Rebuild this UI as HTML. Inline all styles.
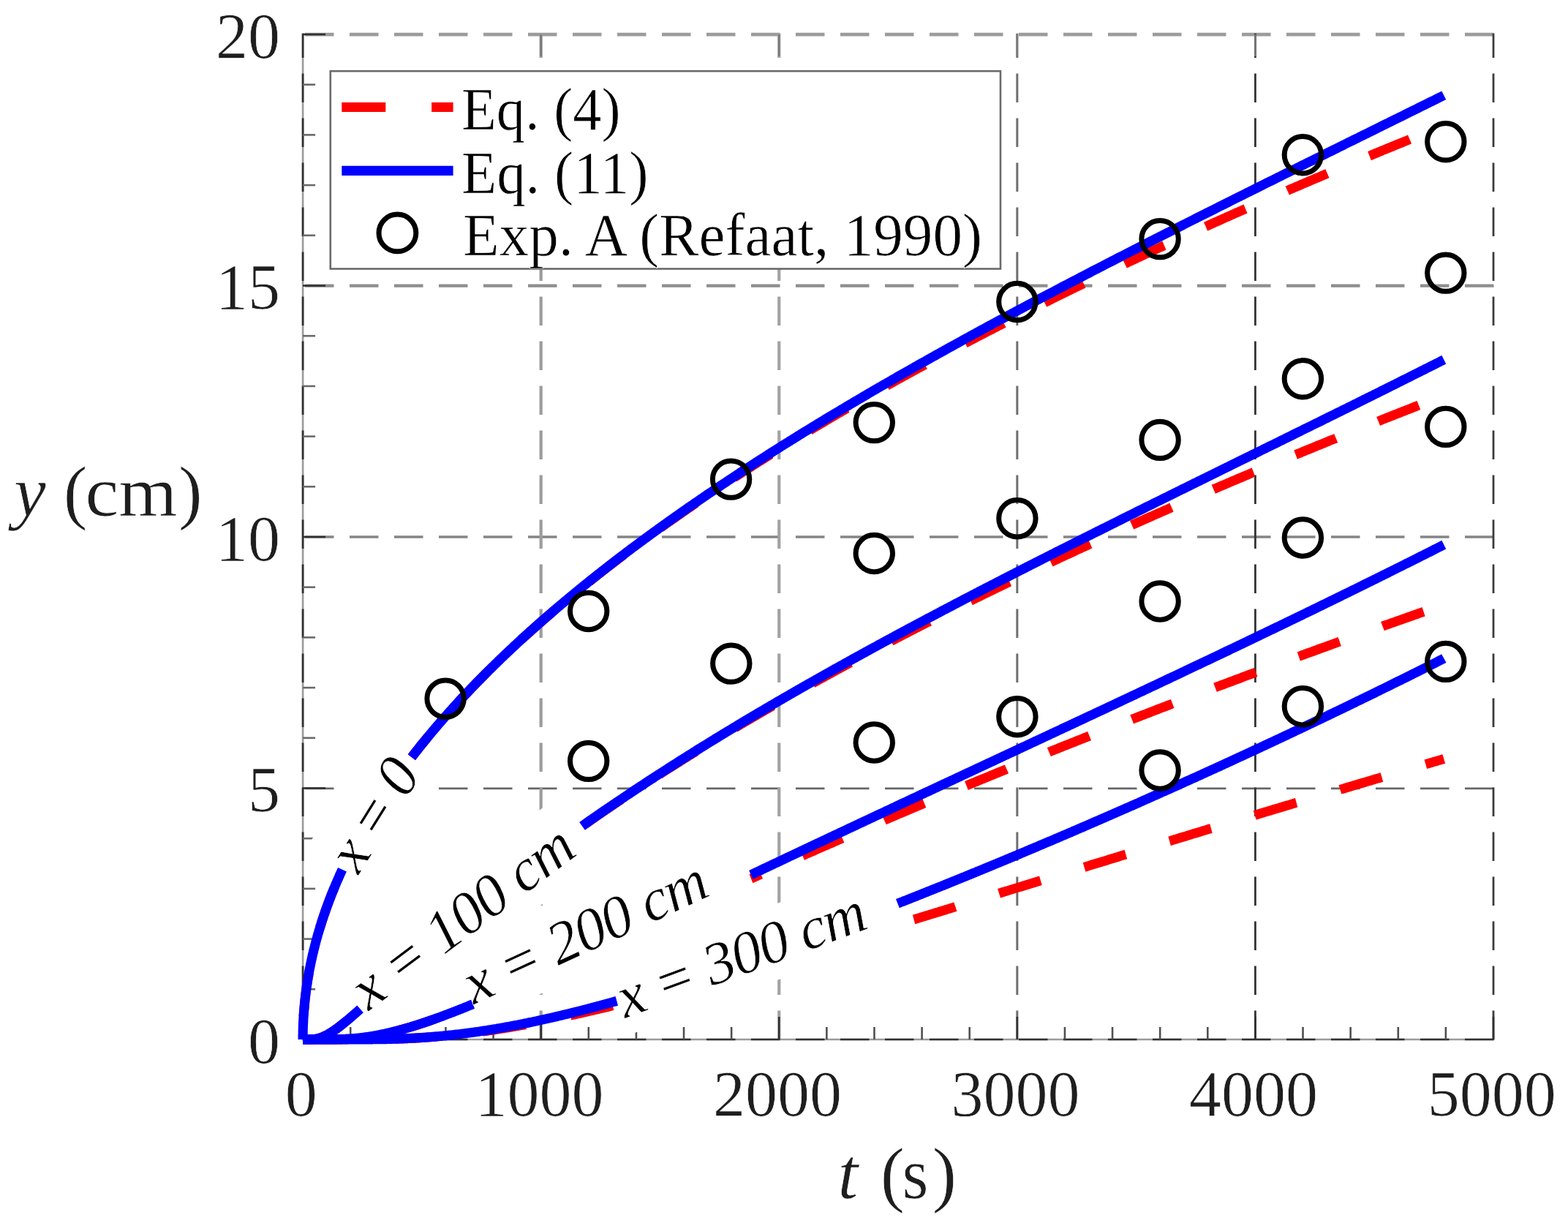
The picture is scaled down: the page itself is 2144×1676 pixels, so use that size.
<!DOCTYPE html>
<html><head><meta charset="utf-8"><title>y vs t</title>
<style>html,body{margin:0;padding:0;background:#fff;}svg{display:block;}text{stroke:#fff;stroke-width:0.7px;stroke-linejoin:round;}</style>
</head><body>
<svg width="2144" height="1676" viewBox="0 0 2144 1676">
<rect x="0" y="0" width="2144" height="1676" fill="#ffffff"/>
<line x1="417" y1="1077.80" x2="2043.30" y2="1077.80" stroke="#666666" stroke-width="2.7" stroke-dasharray="39.5 21.5"/>
<line x1="417" y1="734.00" x2="2043.30" y2="734.00" stroke="#858585" stroke-width="3.4" stroke-dasharray="39.5 21.5"/>
<line x1="417" y1="390.60" x2="2043.30" y2="390.60" stroke="#8e8e8e" stroke-width="4.2" stroke-dasharray="39.5 21.5"/>
<line x1="417" y1="47.20" x2="2043.30" y2="47.20" stroke="#9c9c9c" stroke-width="4.8" stroke-dasharray="39.5 21.5"/>
<line x1="739.68" y1="1421.00" x2="739.68" y2="45.70" stroke="#9c9c9c" stroke-width="4.2" stroke-dasharray="39.5 21.5"/>
<line x1="1065.26" y1="1421.00" x2="1065.26" y2="45.70" stroke="#a2a2a2" stroke-width="4.2" stroke-dasharray="39.5 21.5"/>
<line x1="1390.84" y1="1421.00" x2="1390.84" y2="45.70" stroke="#6e6e6e" stroke-width="3.0" stroke-dasharray="39.5 21.5"/>
<line x1="1716.42" y1="1421.00" x2="1716.42" y2="45.70" stroke="#333333" stroke-width="2.8" stroke-dasharray="39.5 21.5"/>
<line x1="2042.00" y1="1421.00" x2="2042.00" y2="45.70" stroke="#3c3c3c" stroke-width="2.8" stroke-dasharray="39.5 21.5"/>
<line x1="414.10" y1="45.70" x2="414.10" y2="1422.30" stroke="#9a9a9a" stroke-width="2.6"/>
<line x1="412.80" y1="1421.00" x2="2043.30" y2="1421.00" stroke="#9a9a9a" stroke-width="2.6"/>
<line x1="414.10" y1="1421.00" x2="414.10" y2="45.70" stroke="#303030" stroke-width="2.7" stroke-dasharray="39.5 21.5"/>
<line x1="417" y1="1421.00" x2="2043.30" y2="1421.00" stroke="#303030" stroke-width="2.7" stroke-dasharray="39.5 21.5"/>
<line x1="414.10" y1="1421.00" x2="445.10" y2="1421.00" stroke="#303030" stroke-width="2.6"/>
<line x1="414.10" y1="1352.30" x2="431.10" y2="1352.30" stroke="#6a6a6a" stroke-width="2.6"/>
<line x1="414.10" y1="1283.60" x2="431.10" y2="1283.60" stroke="#6a6a6a" stroke-width="2.6"/>
<line x1="414.10" y1="1214.90" x2="431.10" y2="1214.90" stroke="#6a6a6a" stroke-width="2.6"/>
<line x1="414.10" y1="1146.20" x2="431.10" y2="1146.20" stroke="#6a6a6a" stroke-width="2.6"/>
<line x1="414.10" y1="1077.50" x2="445.10" y2="1077.50" stroke="#303030" stroke-width="2.6"/>
<line x1="414.10" y1="1008.80" x2="431.10" y2="1008.80" stroke="#6a6a6a" stroke-width="2.6"/>
<line x1="414.10" y1="940.10" x2="431.10" y2="940.10" stroke="#6a6a6a" stroke-width="2.6"/>
<line x1="414.10" y1="871.40" x2="431.10" y2="871.40" stroke="#6a6a6a" stroke-width="2.6"/>
<line x1="414.10" y1="802.70" x2="431.10" y2="802.70" stroke="#6a6a6a" stroke-width="2.6"/>
<line x1="414.10" y1="734.00" x2="445.10" y2="734.00" stroke="#303030" stroke-width="2.6"/>
<line x1="414.10" y1="665.30" x2="431.10" y2="665.30" stroke="#6a6a6a" stroke-width="2.6"/>
<line x1="414.10" y1="596.60" x2="431.10" y2="596.60" stroke="#6a6a6a" stroke-width="2.6"/>
<line x1="414.10" y1="527.90" x2="431.10" y2="527.90" stroke="#6a6a6a" stroke-width="2.6"/>
<line x1="414.10" y1="459.20" x2="431.10" y2="459.20" stroke="#6a6a6a" stroke-width="2.6"/>
<line x1="414.10" y1="390.50" x2="445.10" y2="390.50" stroke="#303030" stroke-width="2.6"/>
<line x1="414.10" y1="321.80" x2="431.10" y2="321.80" stroke="#6a6a6a" stroke-width="2.6"/>
<line x1="414.10" y1="253.10" x2="431.10" y2="253.10" stroke="#6a6a6a" stroke-width="2.6"/>
<line x1="414.10" y1="184.40" x2="431.10" y2="184.40" stroke="#6a6a6a" stroke-width="2.6"/>
<line x1="414.10" y1="115.70" x2="431.10" y2="115.70" stroke="#6a6a6a" stroke-width="2.6"/>
<line x1="414.10" y1="47.00" x2="445.10" y2="47.00" stroke="#303030" stroke-width="2.6"/>
<line x1="414.10" y1="1421.00" x2="414.10" y2="1390.00" stroke="#303030" stroke-width="2.6"/>
<line x1="479.22" y1="1421.00" x2="479.22" y2="1404.00" stroke="#505050" stroke-width="2.6"/>
<line x1="544.33" y1="1421.00" x2="544.33" y2="1404.00" stroke="#505050" stroke-width="2.6"/>
<line x1="609.45" y1="1421.00" x2="609.45" y2="1404.00" stroke="#505050" stroke-width="2.6"/>
<line x1="674.56" y1="1421.00" x2="674.56" y2="1404.00" stroke="#505050" stroke-width="2.6"/>
<line x1="739.68" y1="1421.00" x2="739.68" y2="1390.00" stroke="#303030" stroke-width="2.6"/>
<line x1="804.80" y1="1421.00" x2="804.80" y2="1404.00" stroke="#505050" stroke-width="2.6"/>
<line x1="869.91" y1="1421.00" x2="869.91" y2="1404.00" stroke="#505050" stroke-width="2.6"/>
<line x1="935.03" y1="1421.00" x2="935.03" y2="1404.00" stroke="#505050" stroke-width="2.6"/>
<line x1="1000.14" y1="1421.00" x2="1000.14" y2="1404.00" stroke="#505050" stroke-width="2.6"/>
<line x1="1065.26" y1="1421.00" x2="1065.26" y2="1390.00" stroke="#303030" stroke-width="2.6"/>
<line x1="1130.38" y1="1421.00" x2="1130.38" y2="1404.00" stroke="#505050" stroke-width="2.6"/>
<line x1="1195.49" y1="1421.00" x2="1195.49" y2="1404.00" stroke="#505050" stroke-width="2.6"/>
<line x1="1260.61" y1="1421.00" x2="1260.61" y2="1404.00" stroke="#505050" stroke-width="2.6"/>
<line x1="1325.72" y1="1421.00" x2="1325.72" y2="1404.00" stroke="#505050" stroke-width="2.6"/>
<line x1="1390.84" y1="1421.00" x2="1390.84" y2="1390.00" stroke="#303030" stroke-width="2.6"/>
<line x1="1455.96" y1="1421.00" x2="1455.96" y2="1404.00" stroke="#505050" stroke-width="2.6"/>
<line x1="1521.07" y1="1421.00" x2="1521.07" y2="1404.00" stroke="#505050" stroke-width="2.6"/>
<line x1="1586.19" y1="1421.00" x2="1586.19" y2="1404.00" stroke="#505050" stroke-width="2.6"/>
<line x1="1651.30" y1="1421.00" x2="1651.30" y2="1404.00" stroke="#505050" stroke-width="2.6"/>
<line x1="1716.42" y1="1421.00" x2="1716.42" y2="1390.00" stroke="#303030" stroke-width="2.6"/>
<line x1="1781.54" y1="1421.00" x2="1781.54" y2="1404.00" stroke="#505050" stroke-width="2.6"/>
<line x1="1846.65" y1="1421.00" x2="1846.65" y2="1404.00" stroke="#505050" stroke-width="2.6"/>
<line x1="1911.77" y1="1421.00" x2="1911.77" y2="1404.00" stroke="#505050" stroke-width="2.6"/>
<line x1="1976.88" y1="1421.00" x2="1976.88" y2="1404.00" stroke="#505050" stroke-width="2.6"/>
<line x1="2042.00" y1="1421.00" x2="2042.00" y2="1390.00" stroke="#303030" stroke-width="2.6"/>
<line x1="739.68" y1="47.00" x2="739.68" y2="77.00" stroke="#7a7a7a" stroke-width="2.6"/>
<line x1="1065.26" y1="47.00" x2="1065.26" y2="77.00" stroke="#7a7a7a" stroke-width="2.6"/>
<line x1="1390.84" y1="47.00" x2="1390.84" y2="77.00" stroke="#7a7a7a" stroke-width="2.6"/>
<line x1="1716.42" y1="47.00" x2="1716.42" y2="77.00" stroke="#7a7a7a" stroke-width="2.6"/>
<rect x="-93.7" y="-54.1" width="187.4" height="108.2" fill="#ffffff" transform="translate(511.5,1113.4) rotate(-58.00)"/>
<rect x="-191.8" y="-52.5" width="383.6" height="105.0" fill="#ffffff" transform="translate(631.6,1252.5) rotate(-36.80)"/>
<rect x="-191.5" y="-50.8" width="383.0" height="101.7" fill="#ffffff" transform="translate(800.1,1274.5) rotate(-24.70)"/>
<rect x="-190.8" y="-49.2" width="381.6" height="98.4" fill="#ffffff" transform="translate(1013.6,1305.6) rotate(-20.30)"/>
<path d="M414.1,1421.0 L414.1,1419.9 L414.1,1418.8 L414.1,1417.8 L414.1,1416.7 L414.1,1415.6 L414.1,1414.5 L414.2,1413.4 L414.2,1412.4 L414.2,1411.3 L414.2,1410.2 L414.2,1409.1 L414.3,1408.0 L414.3,1407.0 L414.3,1405.9 L414.4,1404.8 L414.4,1403.7 L414.4,1402.6 L414.5,1401.6 L414.5,1400.5 L414.6,1399.4 L414.6,1398.3 L414.7,1397.2 L414.7,1396.2 L414.8,1395.1 L414.8,1394.0 L414.9,1392.9 L415.0,1391.8 L415.0,1390.8 L415.1,1389.7 L415.1,1388.6 L415.2,1387.5 L415.3,1386.4 L415.4,1385.4 L415.4,1384.3 L415.5,1383.2 L415.6,1382.1 L415.7,1381.0 L415.8,1380.0 L415.9,1378.9 L416.0,1377.8 L416.1,1376.7 L416.2,1375.6 L416.3,1374.6 L416.4,1373.5 L416.5,1372.4 L416.6,1371.3 L416.7,1370.2 L416.8,1369.2 L416.9,1368.1 L417.0,1367.0 L417.1,1365.9 L417.3,1364.8 L417.4,1363.8 L417.5,1362.7 L417.6,1361.6 L417.8,1360.5 L417.9,1359.4 L418.0,1358.4 L418.2,1357.3 L418.3,1356.2 L418.4,1355.1 L418.6,1354.0 L418.7,1353.0 L418.9,1351.9 L419.0,1350.8 L419.2,1349.7 L419.3,1348.6 L419.5,1347.6 L419.7,1346.5 L419.8,1345.4 L420.0,1344.3 L420.1,1343.2 L420.3,1342.2 L420.5,1341.1 L420.7,1340.0 L420.8,1338.9 L421.0,1337.8 L421.2,1336.8 L421.4,1335.7 L421.6,1334.6 L421.8,1333.5 L421.9,1332.4 L422.1,1331.4 L422.3,1330.3 L422.5,1329.2 L422.7,1328.1 L422.9,1327.0 L423.1,1326.0 L423.3,1324.9 L423.5,1323.8 L423.8,1322.7 L424.0,1321.6 L424.2,1320.6 L424.4,1319.5 L424.6,1318.4 L424.8,1317.3 L425.1,1316.2 L425.3,1315.2 L425.5,1314.1 L425.8,1313.0 L426.0,1311.9 L426.2,1310.8 L426.5,1309.8 L426.7,1308.7 L427.0,1307.6 L427.2,1306.5 L427.4,1305.4 L427.7,1304.4 L428.0,1303.3 L428.2,1302.2 L428.5,1301.1 L428.7,1300.0 L429.0,1299.0 L429.3,1297.9 L429.5,1296.8 L429.8,1295.7 L430.1,1294.6 L430.3,1293.6 L430.6,1292.5 L430.9,1291.4 L431.2,1290.3 L431.5,1289.2 L431.7,1288.2 L432.0,1287.1 L432.3,1286.0 L432.6,1284.9 L432.9,1283.8 L433.2,1282.8 L433.5,1281.7 L433.8,1280.6 L434.1,1279.5 L434.4,1278.4 L434.7,1277.4 L435.0,1276.3 L435.4,1275.2 L435.7,1274.1 L436.0,1273.0 L436.3,1272.0 L436.6,1270.9 L437.0,1269.8 L437.3,1268.7 L437.6,1267.6 L437.9,1266.6 L438.3,1265.5 L438.6,1264.4 L439.0,1263.3 L439.3,1262.2 L439.6,1261.2 L440.0,1260.1 L440.3,1259.0 L440.7,1257.9 L441.0,1256.8 L441.4,1255.8 L441.8,1254.7 L442.1,1253.6 L442.5,1252.5 L442.8,1251.4 L443.2,1250.4 L443.6,1249.3 L444.0,1248.2 L444.3,1247.1 L444.7,1246.0 L445.1,1245.0 L445.5,1243.9 L445.8,1242.8 L446.2,1241.7 L446.6,1240.6 L447.0,1239.6 L447.4,1238.5 L447.8,1237.4 L448.2,1236.3 L448.6,1235.2 L449.0,1234.2 L449.4,1233.1 L449.8,1232.0 L450.2,1230.9 L450.6,1229.8 L451.0,1228.8 L451.5,1227.7 L451.9,1226.6 L452.3,1225.5 L452.7,1224.4 L453.1,1223.4 L453.6,1222.3 L454.0,1221.2 L454.4,1220.1 L454.9,1219.0 L455.3,1218.0 L455.8,1216.9 L456.2,1215.8 L456.6,1214.7 L457.1,1213.6 L457.5,1212.6 L458.0,1211.5 L458.4,1210.4 L458.9,1209.3 L459.4,1208.2 L459.8,1207.2 L460.3,1206.1 L460.7,1205.0 L461.2,1203.9 L461.7,1202.8 L462.2,1201.7 L462.6,1200.7 L463.1,1199.6 L463.6,1198.5 L464.1,1197.4 L464.5,1196.3 L465.0,1195.3 L465.5,1194.2 L466.0,1193.1 L466.5,1192.0 L467.0,1190.9 L467.5,1189.9 L468.0,1188.8" fill="none" stroke="#ff0000" stroke-width="13" stroke-dasharray="59.5 62.4" stroke-dashoffset="89.60" stroke-linejoin="round"/>
<path d="M562.9,1035.2 L564.0,1033.8 L565.0,1032.4 L566.1,1031.1 L567.1,1029.7 L568.2,1028.3 L569.3,1027.0 L570.4,1025.6 L571.5,1024.2 L572.5,1022.9 L573.6,1021.5 L574.7,1020.1 L575.8,1018.8 L576.9,1017.4 L578.0,1016.0 L579.1,1014.7 L580.2,1013.3 L581.4,1011.9 L582.5,1010.6 L583.6,1009.2 L584.7,1007.8 L585.9,1006.5 L587.0,1005.1 L588.1,1003.8 L589.3,1002.4 L590.4,1001.0 L591.6,999.7 L592.7,998.3 L593.9,996.9 L595.0,995.6 L596.2,994.2 L597.4,992.8 L598.5,991.5 L599.7,990.1 L600.9,988.7 L602.1,987.4 L603.3,986.0 L604.4,984.6 L605.6,983.3 L606.8,981.9 L608.0,980.5 L609.2,979.2 L610.5,977.8 L611.7,976.4 L612.9,975.1 L614.1,973.7 L615.3,972.3 L616.6,971.0 L617.8,969.6 L619.0,968.2 L620.3,966.9 L621.5,965.5 L622.7,964.1 L624.0,962.8 L625.3,961.4 L626.5,960.0 L627.8,958.7 L629.0,957.3 L630.3,955.9 L631.6,954.6 L632.9,953.2 L634.1,951.8 L635.4,950.5 L636.7,949.1 L638.0,947.7 L639.3,946.4 L640.6,945.0 L641.9,943.6 L643.2,942.3 L644.5,940.9 L645.8,939.5 L647.1,938.2 L648.5,936.8 L649.8,935.4 L651.1,934.1 L652.4,932.7 L653.8,931.3 L655.1,930.0 L656.5,928.6 L657.8,927.2 L659.2,925.9 L660.5,924.5 L661.9,923.1 L663.2,921.8 L664.6,920.4 L666.0,919.0 L667.3,917.7 L668.7,916.3 L670.1,914.9 L671.5,913.6 L672.9,912.2 L674.3,910.8 L675.7,909.5 L677.0,908.1 L678.5,906.7 L679.9,905.4 L681.3,904.0 L682.7,902.6 L684.1,901.3 L685.5,899.9 L686.9,898.5 L688.4,897.2 L689.8,895.8 L691.2,894.4 L692.7,893.1 L694.1,891.7 L695.6,890.3 L697.0,889.0 L698.5,887.6 L699.9,886.2 L701.4,884.9 L702.9,883.5 L704.3,882.2 L705.8,880.8 L707.3,879.4 L708.8,878.1 L710.3,876.7 L711.7,875.3 L713.2,874.0 L714.7,872.6 L716.2,871.2 L717.7,869.9 L719.2,868.5 L720.8,867.1 L722.3,865.8 L723.8,864.4 L725.3,863.0 L726.8,861.7 L728.4,860.3 L729.9,858.9 L731.4,857.6 L733.0,856.2 L734.5,854.8 L736.1,853.5 L737.6,852.1 L739.2,850.7 L740.7,849.4 L742.3,848.0 L743.9,846.6 L745.4,845.3 L747.0,843.9 L748.6,842.5 L750.2,841.2 L751.8,839.8 L753.4,838.4 L754.9,837.1 L756.5,835.7 L758.1,834.3 L759.7,833.0 L761.4,831.6 L763.0,830.2 L764.6,828.9 L766.2,827.5 L767.8,826.1 L769.5,824.8 L771.1,823.4 L772.7,822.0 L774.4,820.7 L776.0,819.3 L777.6,817.9 L779.3,816.6 L780.9,815.2 L782.6,813.8 L784.3,812.5 L785.9,811.1 L787.6,809.7 L789.3,808.4 L790.9,807.0 L792.6,805.6 L794.3,804.3 L796.0,802.9 L797.7,801.5 L799.4,800.2 L801.1,798.8 L802.8,797.4 L804.5,796.1 L806.2,794.7 L807.9,793.3 L809.6,792.0 L811.3,790.6 L813.1,789.2 L814.8,787.9 L816.5,786.5 L818.2,785.1 L820.0,783.8 L821.7,782.4 L823.5,781.0 L825.2,779.7 L827.0,778.3 L828.7,776.9 L830.5,775.6 L832.3,774.2 L834.0,772.8 L835.8,771.5 L837.6,770.1 L839.4,768.7 L841.1,767.4 L842.9,766.0 L844.7,764.6 L846.5,763.3 L848.3,761.9 L850.1,760.5 L851.9,759.2 L853.7,757.8 L855.5,756.5 L857.4,755.1 L859.2,753.7 L861.0,752.4 L862.8,751.0 L864.7,749.6 L866.5,748.3 L868.3,746.9 L870.2,745.5 L872.0,744.2 L873.9,742.8 L875.7,741.4 L877.6,740.1 L879.5,738.7 L881.3,737.3 L883.2,736.0 L885.1,734.6 L886.9,733.2 L888.8,731.9 L890.7,730.5 L892.6,729.1 L894.5,727.8 L896.4,726.4 L898.3,725.0 L900.2,723.7 L902.1,722.3 L904.0,720.9 L905.9,719.6 L907.8,718.2 L909.8,716.8 L911.7,715.5 L913.6,714.1 L915.5,712.7 L917.5,711.4 L919.4,710.0 L921.4,708.6 L923.3,707.3 L925.3,705.9 L927.2,704.5 L929.2,703.2 L931.1,701.8 L933.1,700.4 L935.1,699.1 L937.1,697.7 L939.0,696.3 L941.0,695.0 L943.0,693.6 L945.0,692.2 L947.0,690.9 L949.0,689.5 L951.0,688.1 L953.0,686.8 L955.0,685.4 L957.0,684.0 L959.0,682.7 L961.0,681.3 L963.0,679.9 L965.1,678.6 L967.1,677.2 L969.1,675.8 L971.2,674.5 L973.2,673.1 L975.3,671.7 L977.3,670.4 L979.4,669.0 L981.4,667.6 L983.5,666.3 L985.5,664.9 L987.6,663.5 L989.7,662.2 L991.8,660.8 L993.8,659.4 L995.9,658.1 L998.0,656.7 L1000.1,655.3 L1002.2,654.0 L1004.3,652.6 L1006.4,651.2 L1008.5,649.9 L1010.6,648.5 L1012.7,647.1 L1014.8,645.8 L1016.9,644.4 L1019.1,643.0 L1021.2,641.7 L1023.3,640.3 L1025.5,638.9 L1027.6,637.6 L1029.7,636.2 L1031.9,634.9 L1034.0,633.5 L1036.2,632.1 L1038.3,630.8 L1040.5,629.4 L1042.7,628.0 L1044.8,626.7 L1047.0,625.3 L1049.2,623.9 L1051.4,622.6 L1053.5,621.2 L1055.7,619.8 L1057.9,618.5 L1060.1,617.1 L1062.3,615.7 L1064.5,614.4 L1066.7,613.0 L1068.9,611.6 L1071.1,610.3 L1073.4,608.9 L1075.6,607.5 L1077.8,606.2 L1080.0,604.8 L1082.3,603.4 L1084.5,602.1 L1086.7,600.7 L1089.0,599.3 L1091.2,598.0 L1093.5,596.6 L1095.7,595.2 L1098.0,593.9 L1100.2,592.5 L1102.5,591.1 L1104.8,589.8 L1107.0,588.4 L1109.3,587.0 L1111.6,585.7 L1113.9,584.3 L1116.2,582.9 L1118.5,581.6 L1120.8,580.2 L1123.1,578.8 L1125.4,577.5 L1127.7,576.1 L1130.0,574.7 L1132.3,573.4 L1134.6,572.0 L1136.9,570.6 L1139.3,569.3 L1141.6,567.9 L1143.9,566.5 L1146.2,565.2 L1148.6,563.8 L1150.9,562.4 L1153.3,561.1 L1155.6,559.7 L1158.0,558.3 L1160.3,557.0 L1162.7,555.6 L1165.1,554.2 L1167.4,552.9 L1169.8,551.5 L1172.2,550.1 L1174.6,548.8 L1177.0,547.4 L1179.3,546.0 L1181.7,544.7 L1184.1,543.3 L1186.5,541.9 L1188.9,540.6 L1191.3,539.2 L1193.7,537.8 L1196.2,536.5 L1198.6,535.1 L1201.0,533.7 L1203.4,532.4 L1205.9,531.0 L1208.3,529.6 L1210.7,528.3 L1213.2,526.9 L1215.6,525.5 L1218.1,524.2 L1220.5,522.8 L1223.0,521.4 L1225.4,520.1 L1227.9,518.7 L1230.4,517.3 L1232.8,516.0 L1235.3,514.6 L1237.8,513.3 L1240.3,511.9 L1242.7,510.5 L1245.2,509.2 L1247.7,507.8 L1250.2,506.4 L1252.7,505.1 L1255.2,503.7 L1257.7,502.3 L1260.2,501.0 L1262.8,499.6 L1265.3,498.2 L1267.8,496.9 L1270.3,495.5 L1272.9,494.1 L1275.4,492.8 L1277.9,491.4 L1280.5,490.0 L1283.0,488.7 L1285.6,487.3 L1288.1,485.9 L1290.7,484.6 L1293.2,483.2 L1295.8,481.8 L1298.4,480.5 L1300.9,479.1 L1303.5,477.7 L1306.1,476.4 L1308.7,475.0 L1311.3,473.6 L1313.8,472.3 L1316.4,470.9 L1319.0,469.5 L1321.6,468.2 L1324.2,466.8 L1326.8,465.4 L1329.5,464.1 L1332.1,462.7 L1334.7,461.3 L1337.3,460.0 L1339.9,458.6 L1342.6,457.2 L1345.2,455.9 L1347.8,454.5 L1350.5,453.1 L1353.1,451.8 L1355.8,450.4 L1358.4,449.0 L1361.1,447.7 L1363.8,446.3 L1366.4,444.9 L1369.1,443.6 L1371.8,442.2 L1374.4,440.8 L1377.1,439.5 L1379.8,438.1 L1382.5,436.7 L1385.2,435.4 L1387.9,434.0 L1390.6,432.6 L1393.3,431.3 L1396.0,429.9 L1398.7,428.5 L1401.4,427.2 L1404.1,425.8 L1406.8,424.4 L1409.6,423.1 L1412.3,421.7 L1415.0,420.3 L1417.7,419.0 L1420.5,417.6 L1423.2,416.2 L1426.0,414.9 L1428.7,413.5 L1431.5,412.1 L1434.2,410.8 L1437.0,409.4 L1439.8,408.0 L1442.5,406.7 L1445.3,405.3 L1448.1,403.9 L1450.9,402.6 L1453.6,401.2 L1456.4,399.8 L1459.2,398.5 L1462.0,397.1 L1464.8,395.7 L1467.6,394.4 L1470.4,393.0 L1473.2,391.6 L1476.0,390.3 L1478.9,388.9 L1481.7,387.6 L1484.5,386.2 L1487.3,384.8 L1490.2,383.5 L1493.0,382.1 L1495.8,380.7 L1498.7,379.4 L1501.5,378.0 L1504.4,376.6 L1507.2,375.3 L1510.1,373.9 L1513.0,372.5 L1515.8,371.2 L1518.7,369.8 L1521.6,368.4 L1524.4,367.1 L1527.3,365.7 L1530.2,364.3 L1533.1,363.0 L1536.0,361.6 L1538.9,360.2 L1541.8,358.9 L1544.7,357.5 L1547.6,356.1 L1550.5,354.8 L1553.4,353.4 L1556.3,352.0 L1559.3,350.7 L1562.2,349.3 L1565.1,347.9 L1568.1,346.6 L1571.0,345.2 L1573.9,343.8 L1576.9,342.5 L1579.8,341.1 L1582.8,339.7 L1585.7,338.4 L1588.7,337.0 L1591.6,335.6 L1594.6,334.3 L1597.6,332.9 L1600.6,331.5 L1603.5,330.2 L1606.5,328.8 L1609.5,327.4 L1612.5,326.1 L1615.5,324.7 L1618.5,323.3 L1621.5,322.0 L1624.5,320.6 L1627.5,319.2 L1630.5,317.9 L1633.5,316.5 L1636.5,315.1 L1639.6,313.8 L1642.6,312.4 L1645.6,311.0 L1648.7,309.7 L1651.7,308.3 L1654.7,306.9 L1657.8,305.6 L1660.8,304.2 L1663.9,302.8 L1666.9,301.5 L1670.0,300.1 L1673.1,298.7 L1676.1,297.4 L1679.2,296.0 L1682.3,294.6 L1685.3,293.3 L1688.4,291.9 L1691.5,290.5 L1694.6,289.2 L1697.7,287.8 L1700.8,286.4 L1703.9,285.1 L1707.0,283.7 L1710.1,282.3 L1713.2,281.0 L1716.3,279.6 L1719.5,278.2 L1722.6,276.9 L1725.7,275.5 L1728.8,274.1 L1732.0,272.8 L1735.1,271.4 L1738.3,270.0 L1741.4,268.7 L1744.5,267.3 L1747.7,266.0 L1750.9,264.6 L1754.0,263.2 L1757.2,261.9 L1760.3,260.5 L1763.5,259.1 L1766.7,257.8 L1769.9,256.4 L1773.1,255.0 L1776.2,253.7 L1779.4,252.3 L1782.6,250.9 L1785.8,249.6 L1789.0,248.2 L1792.2,246.8 L1795.4,245.5 L1798.7,244.1 L1801.9,242.7 L1805.1,241.4 L1808.3,240.0 L1811.5,238.6 L1814.8,237.3 L1818.0,235.9 L1821.3,234.5 L1824.5,233.2 L1827.7,231.8 L1831.0,230.4 L1834.2,229.1 L1837.5,227.7 L1840.8,226.3 L1844.0,225.0 L1847.3,223.6 L1850.6,222.2 L1853.8,220.9 L1857.1,219.5 L1860.4,218.1 L1863.7,216.8 L1867.0,215.4 L1870.3,214.0 L1873.6,212.7 L1876.9,211.3 L1880.2,209.9 L1883.5,208.6 L1886.8,207.2 L1890.1,205.8 L1893.5,204.5 L1896.8,203.1 L1900.1,201.7 L1903.4,200.4 L1906.8,199.0 L1910.1,197.6 L1913.5,196.3 L1916.8,194.9 L1920.2,193.5 L1923.5,192.2 L1926.9,190.8 L1930.2,189.4 L1933.6,188.1 L1937.0,186.7 L1940.3,185.3 L1943.7,184.0 L1947.1,182.6 L1950.5,181.2 L1953.9,179.9 L1957.3,178.5 L1960.7,177.1 L1964.1,175.8 L1967.5,174.4 L1970.9,173.0 L1974.3,171.7" fill="none" stroke="#ff0000" stroke-width="13" stroke-dasharray="59.5 62.4" stroke-dashoffset="23.21" stroke-linejoin="round"/>
<path d="M414.1,1421.0 L414.1,1421.0 L414.1,1421.0 L414.1,1421.0 L414.1,1421.0 L414.1,1421.0 L414.2,1421.0 L414.2,1421.0 L414.2,1421.0 L414.2,1421.0 L414.3,1421.0 L414.3,1421.0 L414.3,1421.0 L414.4,1421.0 L414.4,1421.0 L414.5,1421.0 L414.5,1421.0 L414.6,1421.0 L414.6,1421.0 L414.7,1421.0 L414.7,1421.0 L414.8,1421.0 L414.9,1421.0 L414.9,1421.0 L415.0,1421.0 L415.1,1421.0 L415.2,1421.0 L415.3,1421.0 L415.3,1421.0 L415.4,1421.0 L415.5,1421.0 L415.6,1421.0 L415.7,1421.0 L415.8,1421.0 L415.9,1421.0 L416.0,1421.0 L416.1,1421.0 L416.3,1421.0 L416.4,1421.0 L416.5,1421.0 L416.6,1421.0 L416.8,1421.0 L416.9,1421.0 L417.0,1421.0 L417.2,1421.0 L417.3,1421.0 L417.4,1421.0 L417.6,1421.0 L417.7,1421.0 L417.9,1421.0 L418.0,1421.0 L418.2,1421.0 L418.4,1421.0 L418.5,1421.0 L418.7,1421.0 L418.9,1421.0 L419.1,1421.0 L419.2,1421.0 L419.4,1421.0 L419.6,1421.0 L419.8,1421.0 L420.0,1421.0 L420.2,1421.0 L420.4,1421.0 L420.6,1421.0 L420.8,1421.0 L421.0,1421.0 L421.2,1421.0 L421.4,1421.0 L421.6,1421.0 L421.8,1421.0 L422.1,1421.0 L422.3,1421.0 L422.5,1421.0 L422.7,1421.0 L423.0,1421.0 L423.2,1421.0 L423.5,1421.0 L423.7,1421.0 L424.0,1421.0 L424.2,1421.0 L424.5,1421.0 L424.7,1421.0 L425.0,1420.9 L425.2,1420.9 L425.5,1420.9 L425.8,1420.9 L426.0,1420.9 L426.3,1420.9 L426.6,1420.9 L426.9,1420.8 L427.2,1420.8 L427.5,1420.8 L427.8,1420.8 L428.0,1420.8 L428.3,1420.7 L428.6,1420.7 L429.0,1420.7 L429.3,1420.6 L429.6,1420.6 L429.9,1420.6 L430.2,1420.5 L430.5,1420.5 L430.8,1420.4 L431.2,1420.4 L431.5,1420.3 L431.8,1420.3 L432.2,1420.2 L432.5,1420.1 L432.9,1420.1 L433.2,1420.0 L433.5,1419.9 L433.9,1419.8 L434.3,1419.8 L434.6,1419.7 L435.0,1419.6 L435.3,1419.5 L435.7,1419.4 L436.1,1419.3 L436.5,1419.2 L436.8,1419.0 L437.2,1418.9 L437.6,1418.8 L438.0,1418.7 L438.4,1418.5 L438.8,1418.4 L439.2,1418.3 L439.6,1418.1 L440.0,1418.0 L440.4,1417.8 L440.8,1417.6 L441.2,1417.5 L441.6,1417.3 L442.0,1417.1 L442.4,1416.9 L442.9,1416.7 L443.3,1416.5 L443.7,1416.3 L444.2,1416.1 L444.6,1415.9 L445.0,1415.7 L445.5,1415.5 L445.9,1415.3 L446.4,1415.0 L446.8,1414.8 L447.3,1414.5 L447.7,1414.3 L448.2,1414.0 L448.7,1413.8 L449.1,1413.5 L449.6,1413.2 L450.1,1413.0 L450.6,1412.7 L451.1,1412.4 L451.5,1412.1 L452.0,1411.8 L452.5,1411.5 L453.0,1411.2 L453.5,1410.9 L454.0,1410.5 L454.5,1410.2 L455.0,1409.9 L455.5,1409.5 L456.0,1409.2 L456.6,1408.9 L457.1,1408.5 L457.6,1408.1 L458.1,1407.8 L458.7,1407.4 L459.2,1407.0 L459.7,1406.6 L460.3,1406.3 L460.8,1405.9 L461.3,1405.5 L461.9,1405.1 L462.4,1404.7 L463.0,1404.2 L463.6,1403.8 L464.1,1403.4 L464.7,1403.0 L465.2,1402.5 L465.8,1402.1 L466.4,1401.6 L467.0,1401.2 L467.5,1400.7 L468.1,1400.3 L468.7,1399.8 L469.3,1399.3 L469.9,1398.9 L470.5,1398.4 L471.1,1397.9 L471.7,1397.4 L472.3,1396.9 L472.9,1396.4 L473.5,1395.9 L474.1,1395.4 L474.7,1394.9 L475.4,1394.4 L476.0,1393.9 L476.6,1393.3 L477.2,1392.8 L477.9,1392.3 L478.5,1391.7 L479.2,1391.2 L479.8,1390.6 L480.4,1390.1 L481.1,1389.5 L481.7,1389.0 L482.4,1388.4 L483.1,1387.8 L483.7,1387.2 L484.4,1386.7 L485.0,1386.1 L485.7,1385.5 L486.4,1384.9 L487.1,1384.3 L487.7,1383.7 L488.4,1383.1 L489.1,1382.5 L489.8,1381.9 L490.5,1381.2 L491.2,1380.6 L491.9,1380.0 L492.6,1379.4" fill="none" stroke="#ff0000" stroke-width="13" stroke-dasharray="59.5 62.4" stroke-dashoffset="119.15" stroke-linejoin="round"/>
<path d="M796.0,1129.5 L797.4,1128.5 L798.8,1127.5 L800.2,1126.6 L801.6,1125.6 L803.0,1124.6 L804.4,1123.6 L805.8,1122.6 L807.2,1121.6 L808.6,1120.7 L810.1,1119.7 L811.5,1118.7 L812.9,1117.7 L814.3,1116.7 L815.7,1115.7 L817.2,1114.8 L818.6,1113.8 L820.0,1112.8 L821.5,1111.8 L822.9,1110.8 L824.4,1109.8 L825.8,1108.8 L827.3,1107.8 L828.7,1106.9 L830.2,1105.9 L831.6,1104.9 L833.1,1103.9 L834.5,1102.9 L836.0,1101.9 L837.5,1100.9 L838.9,1099.9 L840.4,1098.9 L841.9,1097.9 L843.3,1096.9 L844.8,1095.9 L846.3,1094.9 L847.8,1094.0 L849.3,1093.0 L850.8,1092.0 L852.3,1091.0 L853.7,1090.0 L855.2,1089.0 L856.7,1088.0 L858.2,1087.0 L859.7,1086.0 L861.3,1085.0 L862.8,1084.0 L864.3,1083.0 L865.8,1082.0 L867.3,1081.0 L868.8,1080.0 L870.3,1079.0 L871.9,1078.0 L873.4,1077.0 L874.9,1076.0 L876.4,1075.0 L878.0,1074.0 L879.5,1073.0 L881.1,1072.0 L882.6,1071.0 L884.1,1070.0 L885.7,1068.9 L887.2,1067.9 L888.8,1066.9 L890.3,1065.9 L891.9,1064.9 L893.5,1063.9 L895.0,1062.9 L896.6,1061.9 L898.2,1060.9 L899.7,1059.9 L901.3,1058.9 L902.9,1057.9 L904.4,1056.9 L906.0,1055.8 L907.6,1054.8 L909.2,1053.8 L910.8,1052.8 L912.4,1051.8 L914.0,1050.8 L915.6,1049.8 L917.2,1048.8 L918.8,1047.8 L920.4,1046.7 L922.0,1045.7 L923.6,1044.7 L925.2,1043.7 L926.8,1042.7 L928.4,1041.7 L930.0,1040.7 L931.6,1039.6 L933.3,1038.6 L934.9,1037.6 L936.5,1036.6 L938.2,1035.6 L939.8,1034.6 L941.4,1033.5 L943.1,1032.5 L944.7,1031.5 L946.3,1030.5 L948.0,1029.5 L949.6,1028.5 L951.3,1027.4 L952.9,1026.4 L954.6,1025.4 L956.3,1024.4 L957.9,1023.4 L959.6,1022.3 L961.2,1021.3 L962.9,1020.3 L964.6,1019.3 L966.3,1018.2 L967.9,1017.2 L969.6,1016.2 L971.3,1015.2 L973.0,1014.2 L974.7,1013.1 L976.4,1012.1 L978.0,1011.1 L979.7,1010.1 L981.4,1009.0 L983.1,1008.0 L984.8,1007.0 L986.5,1006.0 L988.2,1004.9 L990.0,1003.9 L991.7,1002.9 L993.4,1001.9 L995.1,1000.8 L996.8,999.8 L998.5,998.8 L1000.3,997.7 L1002.0,996.7 L1003.7,995.7 L1005.4,994.7 L1007.2,993.6 L1008.9,992.6 L1010.7,991.6 L1012.4,990.5 L1014.1,989.5 L1015.9,988.5 L1017.6,987.5 L1019.4,986.4 L1021.1,985.4 L1022.9,984.4 L1024.7,983.3 L1026.4,982.3 L1028.2,981.3 L1030.0,980.2 L1031.7,979.2 L1033.5,978.2 L1035.3,977.1 L1037.1,976.1 L1038.8,975.1 L1040.6,974.0 L1042.4,973.0 L1044.2,972.0 L1046.0,970.9 L1047.8,969.9 L1049.6,968.9 L1051.4,967.8 L1053.2,966.8 L1055.0,965.8 L1056.8,964.7 L1058.6,963.7 L1060.4,962.6 L1062.2,961.6 L1064.0,960.6 L1065.8,959.5 L1067.7,958.5 L1069.5,957.5 L1071.3,956.4 L1073.1,955.4 L1075.0,954.3 L1076.8,953.3 L1078.6,952.3 L1080.5,951.2 L1082.3,950.2 L1084.2,949.1 L1086.0,948.1 L1087.9,947.1 L1089.7,946.0 L1091.6,945.0 L1093.4,943.9 L1095.3,942.9 L1097.1,941.9 L1099.0,940.8 L1100.9,939.8 L1102.7,938.7 L1104.6,937.7 L1106.5,936.6 L1108.4,935.6 L1110.2,934.6 L1112.1,933.5 L1114.0,932.5 L1115.9,931.4 L1117.8,930.4 L1119.7,929.3 L1121.6,928.3 L1123.5,927.3 L1125.4,926.2 L1127.3,925.2 L1129.2,924.1 L1131.1,923.1 L1133.0,922.0 L1134.9,921.0 L1136.8,919.9 L1138.7,918.9 L1140.7,917.8 L1142.6,916.8 L1144.5,915.8 L1146.4,914.7 L1148.4,913.7 L1150.3,912.6 L1152.2,911.6 L1154.2,910.5 L1156.1,909.5 L1158.1,908.4 L1160.0,907.4 L1161.9,906.3 L1163.9,905.3 L1165.9,904.2 L1167.8,903.2 L1169.8,902.1 L1171.7,901.1 L1173.7,900.0 L1175.7,899.0 L1177.6,897.9 L1179.6,896.9 L1181.6,895.8 L1183.5,894.8 L1185.5,893.7 L1187.5,892.7 L1189.5,891.6 L1191.5,890.6 L1193.5,889.5 L1195.5,888.5 L1197.4,887.4 L1199.4,886.4 L1201.4,885.3 L1203.4,884.3 L1205.4,883.2 L1207.5,882.2 L1209.5,881.1 L1211.5,880.0 L1213.5,879.0 L1215.5,877.9 L1217.5,876.9 L1219.5,875.8 L1221.6,874.8 L1223.6,873.7 L1225.6,872.7 L1227.7,871.6 L1229.7,870.6 L1231.7,869.5 L1233.8,868.5 L1235.8,867.4 L1237.8,866.3 L1239.9,865.3 L1241.9,864.2 L1244.0,863.2 L1246.1,862.1 L1248.1,861.1 L1250.2,860.0 L1252.2,858.9 L1254.3,857.9 L1256.4,856.8 L1258.4,855.8 L1260.5,854.7 L1262.6,853.7 L1264.7,852.6 L1266.7,851.5 L1268.8,850.5 L1270.9,849.4 L1273.0,848.4 L1275.1,847.3 L1277.2,846.3 L1279.3,845.2 L1281.4,844.1 L1283.5,843.1 L1285.6,842.0 L1287.7,841.0 L1289.8,839.9 L1291.9,838.8 L1294.0,837.8 L1296.1,836.7 L1298.2,835.7 L1300.4,834.6 L1302.5,833.5 L1304.6,832.5 L1306.7,831.4 L1308.9,830.4 L1311.0,829.3 L1313.1,828.2 L1315.3,827.2 L1317.4,826.1 L1319.6,825.0 L1321.7,824.0 L1323.9,822.9 L1326.0,821.9 L1328.2,820.8 L1330.3,819.7 L1332.5,818.7 L1334.6,817.6 L1336.8,816.5 L1339.0,815.5 L1341.1,814.4 L1343.3,813.4 L1345.5,812.3 L1347.7,811.2 L1349.8,810.2 L1352.0,809.1 L1354.2,808.0 L1356.4,807.0 L1358.6,805.9 L1360.8,804.8 L1363.0,803.8 L1365.2,802.7 L1367.4,801.6 L1369.6,800.6 L1371.8,799.5 L1374.0,798.5 L1376.2,797.4 L1378.4,796.3 L1380.6,795.3 L1382.8,794.2 L1385.0,793.1 L1387.3,792.1 L1389.5,791.0 L1391.7,789.9 L1393.9,788.9 L1396.2,787.8 L1398.4,786.7 L1400.7,785.7 L1402.9,784.6 L1405.1,783.5 L1407.4,782.5 L1409.6,781.4 L1411.9,780.3 L1414.1,779.3 L1416.4,778.2 L1418.6,777.1 L1420.9,776.0 L1423.2,775.0 L1425.4,773.9 L1427.7,772.8 L1430.0,771.8 L1432.2,770.7 L1434.5,769.6 L1436.8,768.6 L1439.1,767.5 L1441.4,766.4 L1443.6,765.4 L1445.9,764.3 L1448.2,763.2 L1450.5,762.1 L1452.8,761.1 L1455.1,760.0 L1457.4,758.9 L1459.7,757.9 L1462.0,756.8 L1464.3,755.7 L1466.6,754.7 L1469.0,753.6 L1471.3,752.5 L1473.6,751.4 L1475.9,750.4 L1478.2,749.3 L1480.6,748.2 L1482.9,747.2 L1485.2,746.1 L1487.6,745.0 L1489.9,743.9 L1492.2,742.9 L1494.6,741.8 L1496.9,740.7 L1499.3,739.7 L1501.6,738.6 L1504.0,737.5 L1506.3,736.4 L1508.7,735.4 L1511.0,734.3 L1513.4,733.2 L1515.8,732.1 L1518.1,731.1 L1520.5,730.0 L1522.9,728.9 L1525.2,727.8 L1527.6,726.8 L1530.0,725.7 L1532.4,724.6 L1534.8,723.6 L1537.2,722.5 L1539.5,721.4 L1541.9,720.3 L1544.3,719.3 L1546.7,718.2 L1549.1,717.1 L1551.5,716.0 L1553.9,715.0 L1556.3,713.9 L1558.8,712.8 L1561.2,711.7 L1563.6,710.7 L1566.0,709.6 L1568.4,708.5 L1570.8,707.4 L1573.3,706.4 L1575.7,705.3 L1578.1,704.2 L1580.6,703.1 L1583.0,702.0 L1585.4,701.0 L1587.9,699.9 L1590.3,698.8 L1592.8,697.7 L1595.2,696.7 L1597.7,695.6 L1600.1,694.5 L1602.6,693.4 L1605.0,692.4 L1607.5,691.3 L1610.0,690.2 L1612.4,689.1 L1614.9,688.0 L1617.4,687.0 L1619.8,685.9 L1622.3,684.8 L1624.8,683.7 L1627.3,682.7 L1629.8,681.6 L1632.2,680.5 L1634.7,679.4 L1637.2,678.3 L1639.7,677.3 L1642.2,676.2 L1644.7,675.1 L1647.2,674.0 L1649.7,673.0 L1652.2,671.9 L1654.7,670.8 L1657.2,669.7 L1659.8,668.6 L1662.3,667.6 L1664.8,666.5 L1667.3,665.4 L1669.8,664.3 L1672.4,663.2 L1674.9,662.2 L1677.4,661.1 L1680.0,660.0 L1682.5,658.9 L1685.0,657.8 L1687.6,656.8 L1690.1,655.7 L1692.7,654.6 L1695.2,653.5 L1697.8,652.4 L1700.3,651.4 L1702.9,650.3 L1705.5,649.2 L1708.0,648.1 L1710.6,647.0 L1713.1,645.9 L1715.7,644.9 L1718.3,643.8 L1720.9,642.7 L1723.4,641.6 L1726.0,640.5 L1728.6,639.5 L1731.2,638.4 L1733.8,637.3 L1736.4,636.2 L1739.0,635.1 L1741.6,634.0 L1744.2,633.0 L1746.8,631.9 L1749.4,630.8 L1752.0,629.7 L1754.6,628.6 L1757.2,627.6 L1759.8,626.5 L1762.4,625.4 L1765.0,624.3 L1767.7,623.2 L1770.3,622.1 L1772.9,621.1 L1775.5,620.0 L1778.2,618.9 L1780.8,617.8 L1783.4,616.7 L1786.1,615.6 L1788.7,614.6 L1791.4,613.5 L1794.0,612.4 L1796.7,611.3 L1799.3,610.2 L1802.0,609.1 L1804.6,608.1 L1807.3,607.0 L1809.9,605.9 L1812.6,604.8 L1815.3,603.7 L1817.9,602.6 L1820.6,601.5 L1823.3,600.5 L1826.0,599.4 L1828.6,598.3 L1831.3,597.2 L1834.0,596.1 L1836.7,595.0 L1839.4,593.9 L1842.1,592.9 L1844.8,591.8 L1847.5,590.7 L1850.2,589.6 L1852.9,588.5 L1855.6,587.4 L1858.3,586.4 L1861.0,585.3 L1863.7,584.2 L1866.4,583.1 L1869.1,582.0 L1871.9,580.9 L1874.6,579.8 L1877.3,578.7 L1880.0,577.7 L1882.8,576.6 L1885.5,575.5 L1888.2,574.4 L1891.0,573.3 L1893.7,572.2 L1896.4,571.1 L1899.2,570.1 L1901.9,569.0 L1904.7,567.9 L1907.4,566.8 L1910.2,565.7 L1913.0,564.6 L1915.7,563.5 L1918.5,562.4 L1921.2,561.4 L1924.0,560.3 L1926.8,559.2 L1929.6,558.1 L1932.3,557.0 L1935.1,555.9 L1937.9,554.8 L1940.7,553.7 L1943.5,552.7 L1946.3,551.6 L1949.0,550.5 L1951.8,549.4 L1954.6,548.3 L1957.4,547.2 L1960.2,546.1 L1963.0,545.0 L1965.8,543.9 L1968.7,542.9 L1971.5,541.8 L1974.3,540.7" fill="none" stroke="#ff0000" stroke-width="13" stroke-dasharray="59.5 62.4" stroke-dashoffset="116.77" stroke-linejoin="round"/>
<path d="M414.1,1421.0 L414.1,1421.0 L414.1,1421.0 L414.1,1421.0 L414.2,1421.0 L414.2,1421.0 L414.2,1421.0 L414.3,1421.0 L414.3,1421.0 L414.4,1421.0 L414.4,1421.0 L414.5,1421.0 L414.6,1421.0 L414.6,1421.0 L414.7,1421.0 L414.8,1421.0 L414.9,1421.0 L415.0,1421.0 L415.1,1421.0 L415.3,1421.0 L415.4,1421.0 L415.5,1421.0 L415.6,1421.0 L415.8,1421.0 L415.9,1421.0 L416.1,1421.0 L416.3,1421.0 L416.4,1421.0 L416.6,1421.0 L416.8,1421.0 L417.0,1421.0 L417.2,1421.0 L417.4,1421.0 L417.6,1421.0 L417.8,1421.0 L418.0,1421.0 L418.2,1421.0 L418.5,1421.0 L418.7,1421.0 L419.0,1421.0 L419.2,1421.0 L419.5,1421.0 L419.7,1421.0 L420.0,1421.0 L420.3,1421.0 L420.6,1421.0 L420.8,1421.0 L421.1,1421.0 L421.4,1421.0 L421.8,1421.0 L422.1,1421.0 L422.4,1421.0 L422.7,1421.0 L423.1,1421.0 L423.4,1421.0 L423.7,1421.0 L424.1,1421.0 L424.5,1421.0 L424.8,1421.0 L425.2,1421.0 L425.6,1421.0 L426.0,1421.0 L426.4,1421.0 L426.8,1421.0 L427.2,1421.0 L427.6,1421.0 L428.0,1421.0 L428.4,1421.0 L428.8,1421.0 L429.3,1421.0 L429.7,1421.0 L430.2,1421.0 L430.6,1421.0 L431.1,1421.0 L431.6,1421.0 L432.0,1421.0 L432.5,1421.0 L433.0,1421.0 L433.5,1421.0 L434.0,1421.0 L434.5,1421.0 L435.0,1421.0 L435.5,1421.0 L436.1,1421.0 L436.6,1421.0 L437.1,1421.0 L437.7,1421.0 L438.2,1421.0 L438.8,1421.0 L439.4,1421.0 L439.9,1421.0 L440.5,1421.0 L441.1,1421.0 L441.7,1421.0 L442.3,1421.0 L442.9,1421.0 L443.5,1421.0 L444.1,1421.0 L444.7,1421.0 L445.4,1421.0 L446.0,1421.0 L446.6,1421.0 L447.3,1421.0 L447.9,1421.0 L448.6,1421.0 L449.3,1421.0 L449.9,1421.0 L450.6,1421.0 L451.3,1421.0 L452.0,1421.0 L452.7,1420.9 L453.4,1420.9 L454.1,1420.9 L454.8,1420.9 L455.5,1420.9 L456.3,1420.9 L457.0,1420.9 L457.8,1420.9 L458.5,1420.9 L459.3,1420.9 L460.0,1420.8 L460.8,1420.8 L461.6,1420.8 L462.4,1420.8 L463.1,1420.8 L463.9,1420.7 L464.7,1420.7 L465.5,1420.7 L466.4,1420.7 L467.2,1420.6 L468.0,1420.6 L468.8,1420.6 L469.7,1420.5 L470.5,1420.5 L471.4,1420.5 L472.2,1420.4 L473.1,1420.4 L474.0,1420.3 L474.8,1420.3 L475.7,1420.2 L476.6,1420.2 L477.5,1420.1 L478.4,1420.0 L479.3,1420.0 L480.2,1419.9 L481.2,1419.8 L482.1,1419.8 L483.0,1419.7 L484.0,1419.6 L484.9,1419.5 L485.9,1419.4 L486.8,1419.4 L487.8,1419.3 L488.8,1419.2 L489.7,1419.1 L490.7,1419.0 L491.7,1418.9 L492.7,1418.7 L493.7,1418.6 L494.7,1418.5 L495.7,1418.4 L496.8,1418.3 L497.8,1418.1 L498.8,1418.0 L499.9,1417.8 L500.9,1417.7 L502.0,1417.5 L503.0,1417.4 L504.1,1417.2 L505.2,1417.1 L506.3,1416.9 L507.4,1416.7 L508.5,1416.5 L509.6,1416.4 L510.7,1416.2 L511.8,1416.0 L512.9,1415.8 L514.0,1415.6 L515.1,1415.4 L516.3,1415.2 L517.4,1414.9 L518.6,1414.7 L519.7,1414.5 L520.9,1414.3 L522.1,1414.0 L523.3,1413.8 L524.4,1413.5 L525.6,1413.3 L526.8,1413.0 L528.0,1412.7 L529.2,1412.5 L530.4,1412.2 L531.7,1411.9 L532.9,1411.6 L534.1,1411.3 L535.4,1411.0 L536.6,1410.7 L537.9,1410.4 L539.1,1410.1 L540.4,1409.8 L541.7,1409.5 L543.0,1409.1 L544.2,1408.8 L545.5,1408.4 L546.8,1408.1 L548.1,1407.7 L549.4,1407.4 L550.8,1407.0 L552.1,1406.7 L553.4,1406.3 L554.7,1405.9 L556.1,1405.5 L557.4,1405.1 L558.8,1404.7 L560.2,1404.3 L561.5,1403.9 L562.9,1403.5 L564.3,1403.1 L565.7,1402.6 L567.1,1402.2 L568.5,1401.8 L569.9,1401.3 L571.3,1400.9 L572.7,1400.4 L574.1,1400.0 L575.6,1399.5 L577.0,1399.0 L578.4,1398.5 L579.9,1398.1 L581.4,1397.6 L582.8,1397.1 L584.3,1396.6 L585.8,1396.1 L587.2,1395.6 L588.7,1395.1 L590.2,1394.5 L591.7,1394.0 L593.2,1393.5 L594.8,1392.9 L596.3,1392.4 L597.8,1391.8 L599.3,1391.3 L600.9,1390.7 L602.4,1390.2 L604.0,1389.6 L605.5,1389.0 L607.1,1388.4 L608.7,1387.9 L610.3,1387.3 L611.8,1386.7 L613.4,1386.1 L615.0,1385.5 L616.6,1384.9 L618.2,1384.2 L619.9,1383.6 L621.5,1383.0 L623.1,1382.3 L624.8,1381.7 L626.4,1381.1 L628.0,1380.4 L629.7,1379.8 L631.4,1379.1 L633.0,1378.4 L634.7,1377.8 L636.4,1377.1 L638.1,1376.4 L639.8,1375.7 L641.5,1375.1 L643.2,1374.4 L644.9,1373.7 L646.6,1373.0" fill="none" stroke="#ff0000" stroke-width="13" stroke-dasharray="59.5 62.4" stroke-dashoffset="119.15" stroke-linejoin="round"/>
<path d="M1026.9,1201.1 L1028.4,1200.5 L1029.9,1199.8 L1031.4,1199.1 L1032.9,1198.5 L1034.4,1197.8 L1035.9,1197.1 L1037.4,1196.4 L1038.9,1195.8 L1040.4,1195.1 L1041.9,1194.4 L1043.4,1193.7 L1044.9,1193.1 L1046.5,1192.4 L1048.0,1191.7 L1049.5,1191.0 L1051.0,1190.3 L1052.5,1189.7 L1054.1,1189.0 L1055.6,1188.3 L1057.1,1187.6 L1058.6,1186.9 L1060.2,1186.3 L1061.7,1185.6 L1063.3,1184.9 L1064.8,1184.2 L1066.3,1183.5 L1067.9,1182.8 L1069.4,1182.2 L1071.0,1181.5 L1072.5,1180.8 L1074.1,1180.1 L1075.6,1179.4 L1077.2,1178.7 L1078.7,1178.0 L1080.3,1177.3 L1081.8,1176.7 L1083.4,1176.0 L1084.9,1175.3 L1086.5,1174.6 L1088.1,1173.9 L1089.6,1173.2 L1091.2,1172.5 L1092.8,1171.8 L1094.3,1171.1 L1095.9,1170.4 L1097.5,1169.7 L1099.1,1169.0 L1100.6,1168.3 L1102.2,1167.6 L1103.8,1166.9 L1105.4,1166.2 L1107.0,1165.5 L1108.6,1164.8 L1110.2,1164.1 L1111.8,1163.5 L1113.3,1162.8 L1114.9,1162.1 L1116.5,1161.3 L1118.1,1160.6 L1119.7,1159.9 L1121.3,1159.2 L1122.9,1158.5 L1124.6,1157.8 L1126.2,1157.1 L1127.8,1156.4 L1129.4,1155.7 L1131.0,1155.0 L1132.6,1154.3 L1134.2,1153.6 L1135.9,1152.9 L1137.5,1152.2 L1139.1,1151.5 L1140.7,1150.8 L1142.3,1150.1 L1144.0,1149.4 L1145.6,1148.6 L1147.2,1147.9 L1148.9,1147.2 L1150.5,1146.5 L1152.1,1145.8 L1153.8,1145.1 L1155.4,1144.4 L1157.1,1143.7 L1158.7,1143.0 L1160.4,1142.2 L1162.0,1141.5 L1163.7,1140.8 L1165.3,1140.1 L1167.0,1139.4 L1168.6,1138.7 L1170.3,1138.0 L1171.9,1137.2 L1173.6,1136.5 L1175.3,1135.8 L1176.9,1135.1 L1178.6,1134.4 L1180.3,1133.6 L1181.9,1132.9 L1183.6,1132.2 L1185.3,1131.5 L1186.9,1130.8 L1188.6,1130.0 L1190.3,1129.3 L1192.0,1128.6 L1193.7,1127.9 L1195.4,1127.2 L1197.0,1126.4 L1198.7,1125.7 L1200.4,1125.0 L1202.1,1124.3 L1203.8,1123.5 L1205.5,1122.8 L1207.2,1122.1 L1208.9,1121.4 L1210.6,1120.6 L1212.3,1119.9 L1214.0,1119.2 L1215.7,1118.4 L1217.4,1117.7 L1219.1,1117.0 L1220.8,1116.3 L1222.6,1115.5 L1224.3,1114.8 L1226.0,1114.1 L1227.7,1113.3 L1229.4,1112.6 L1231.2,1111.9 L1232.9,1111.1 L1234.6,1110.4 L1236.3,1109.7 L1238.1,1108.9 L1239.8,1108.2 L1241.5,1107.5 L1243.3,1106.7 L1245.0,1106.0 L1246.7,1105.3 L1248.5,1104.5 L1250.2,1103.8 L1252.0,1103.1 L1253.7,1102.3 L1255.5,1101.6 L1257.2,1100.8 L1259.0,1100.1 L1260.7,1099.4 L1262.5,1098.6 L1264.2,1097.9 L1266.0,1097.1 L1267.7,1096.4 L1269.5,1095.7 L1271.3,1094.9 L1273.0,1094.2 L1274.8,1093.4 L1276.6,1092.7 L1278.4,1092.0 L1280.1,1091.2 L1281.9,1090.5 L1283.7,1089.7 L1285.5,1089.0 L1287.2,1088.2 L1289.0,1087.5 L1290.8,1086.7 L1292.6,1086.0 L1294.4,1085.3 L1296.2,1084.5 L1298.0,1083.8 L1299.8,1083.0 L1301.6,1082.3 L1303.4,1081.5 L1305.2,1080.8 L1307.0,1080.0 L1308.8,1079.3 L1310.6,1078.5 L1312.4,1077.8 L1314.2,1077.0 L1316.0,1076.3 L1317.8,1075.5 L1319.6,1074.8 L1321.4,1074.0 L1323.2,1073.3 L1325.1,1072.5 L1326.9,1071.8 L1328.7,1071.0 L1330.5,1070.3 L1332.4,1069.5 L1334.2,1068.8 L1336.0,1068.0 L1337.8,1067.2 L1339.7,1066.5 L1341.5,1065.7 L1343.4,1065.0 L1345.2,1064.2 L1347.0,1063.5 L1348.9,1062.7 L1350.7,1062.0 L1352.6,1061.2 L1354.4,1060.4 L1356.3,1059.7 L1358.1,1058.9 L1360.0,1058.2 L1361.8,1057.4 L1363.7,1056.6 L1365.5,1055.9 L1367.4,1055.1 L1369.3,1054.4 L1371.1,1053.6 L1373.0,1052.8 L1374.9,1052.1 L1376.7,1051.3 L1378.6,1050.6 L1380.5,1049.8 L1382.4,1049.0 L1384.2,1048.3 L1386.1,1047.5 L1388.0,1046.7 L1389.9,1046.0 L1391.8,1045.2 L1393.7,1044.4 L1395.5,1043.7 L1397.4,1042.9 L1399.3,1042.2 L1401.2,1041.4 L1403.1,1040.6 L1405.0,1039.9 L1406.9,1039.1 L1408.8,1038.3 L1410.7,1037.5 L1412.6,1036.8 L1414.5,1036.0 L1416.4,1035.2 L1418.3,1034.5 L1420.3,1033.7 L1422.2,1032.9 L1424.1,1032.2 L1426.0,1031.4 L1427.9,1030.6 L1429.8,1029.9 L1431.8,1029.1 L1433.7,1028.3 L1435.6,1027.5 L1437.5,1026.8 L1439.5,1026.0 L1441.4,1025.2 L1443.3,1024.5 L1445.3,1023.7 L1447.2,1022.9 L1449.1,1022.1 L1451.1,1021.4 L1453.0,1020.6 L1455.0,1019.8 L1456.9,1019.0 L1458.9,1018.3 L1460.8,1017.5 L1462.8,1016.7 L1464.7,1015.9 L1466.7,1015.2 L1468.6,1014.4 L1470.6,1013.6 L1472.6,1012.8 L1474.5,1012.0 L1476.5,1011.3 L1478.5,1010.5 L1480.4,1009.7 L1482.4,1008.9 L1484.4,1008.1 L1486.3,1007.4 L1488.3,1006.6 L1490.3,1005.8 L1492.3,1005.0 L1494.3,1004.2 L1496.2,1003.5 L1498.2,1002.7 L1500.2,1001.9 L1502.2,1001.1 L1504.2,1000.3 L1506.2,999.6 L1508.2,998.8 L1510.2,998.0 L1512.2,997.2 L1514.2,996.4 L1516.2,995.6 L1518.2,994.9 L1520.2,994.1 L1522.2,993.3 L1524.2,992.5 L1526.2,991.7 L1528.2,990.9 L1530.2,990.1 L1532.2,989.4 L1534.3,988.6 L1536.3,987.8 L1538.3,987.0 L1540.3,986.2 L1542.3,985.4 L1544.4,984.6 L1546.4,983.9 L1548.4,983.1 L1550.5,982.3 L1552.5,981.5 L1554.5,980.7 L1556.6,979.9 L1558.6,979.1 L1560.6,978.3 L1562.7,977.5 L1564.7,976.8 L1566.8,976.0 L1568.8,975.2 L1570.9,974.4 L1572.9,973.6 L1575.0,972.8 L1577.0,972.0 L1579.1,971.2 L1581.2,970.4 L1583.2,969.6 L1585.3,968.8 L1587.3,968.0 L1589.4,967.2 L1591.5,966.5 L1593.5,965.7 L1595.6,964.9 L1597.7,964.1 L1599.8,963.3 L1601.8,962.5 L1603.9,961.7 L1606.0,960.9 L1608.1,960.1 L1610.2,959.3 L1612.3,958.5 L1614.4,957.7 L1616.4,956.9 L1618.5,956.1 L1620.6,955.3 L1622.7,954.5 L1624.8,953.7 L1626.9,952.9 L1629.0,952.1 L1631.1,951.3 L1633.2,950.5 L1635.3,949.7 L1637.4,948.9 L1639.6,948.1 L1641.7,947.3 L1643.8,946.5 L1645.9,945.7 L1648.0,944.9 L1650.1,944.1 L1652.3,943.3 L1654.4,942.5 L1656.5,941.7 L1658.6,940.9 L1660.8,940.1 L1662.9,939.3 L1665.0,938.5 L1667.1,937.7 L1669.3,936.9 L1671.4,936.1 L1673.6,935.3 L1675.7,934.5 L1677.8,933.7 L1680.0,932.9 L1682.1,932.1 L1684.3,931.3 L1686.4,930.5 L1688.6,929.7 L1690.7,928.9 L1692.9,928.1 L1695.1,927.3 L1697.2,926.5 L1699.4,925.6 L1701.5,924.8 L1703.7,924.0 L1705.9,923.2 L1708.0,922.4 L1710.2,921.6 L1712.4,920.8 L1714.6,920.0 L1716.7,919.2 L1718.9,918.4 L1721.1,917.6 L1723.3,916.8 L1725.4,916.0 L1727.6,915.2 L1729.8,914.3 L1732.0,913.5 L1734.2,912.7 L1736.4,911.9 L1738.6,911.1 L1740.8,910.3 L1743.0,909.5 L1745.2,908.7 L1747.4,907.9 L1749.6,907.0 L1751.8,906.2 L1754.0,905.4 L1756.2,904.6 L1758.4,903.8 L1760.6,903.0 L1762.8,902.2 L1765.1,901.4 L1767.3,900.6 L1769.5,899.7 L1771.7,898.9 L1773.9,898.1 L1776.2,897.3 L1778.4,896.5 L1780.6,895.7 L1782.8,894.9 L1785.1,894.0 L1787.3,893.2 L1789.5,892.4 L1791.8,891.6 L1794.0,890.8 L1796.3,890.0 L1798.5,889.2 L1800.7,888.3 L1803.0,887.5 L1805.2,886.7 L1807.5,885.9 L1809.7,885.1 L1812.0,884.3 L1814.3,883.4 L1816.5,882.6 L1818.8,881.8 L1821.0,881.0 L1823.3,880.2 L1825.6,879.3 L1827.8,878.5 L1830.1,877.7 L1832.4,876.9 L1834.6,876.1 L1836.9,875.3 L1839.2,874.4 L1841.5,873.6 L1843.7,872.8 L1846.0,872.0 L1848.3,871.2 L1850.6,870.3 L1852.9,869.5 L1855.2,868.7 L1857.5,867.9 L1859.7,867.0 L1862.0,866.2 L1864.3,865.4 L1866.6,864.6 L1868.9,863.8 L1871.2,862.9 L1873.5,862.1 L1875.8,861.3 L1878.1,860.5 L1880.5,859.6 L1882.8,858.8 L1885.1,858.0 L1887.4,857.2 L1889.7,856.4 L1892.0,855.5 L1894.3,854.7 L1896.7,853.9 L1899.0,853.1 L1901.3,852.2 L1903.6,851.4 L1906.0,850.6 L1908.3,849.8 L1910.6,848.9 L1913.0,848.1 L1915.3,847.3 L1917.6,846.5 L1920.0,845.6 L1922.3,844.8 L1924.7,844.0 L1927.0,843.2 L1929.4,842.3 L1931.7,841.5 L1934.0,840.7 L1936.4,839.8 L1938.8,839.0 L1941.1,838.2 L1943.5,837.4 L1945.8,836.5 L1948.2,835.7 L1950.6,834.9 L1952.9,834.0 L1955.3,833.2 L1957.7,832.4 L1960.0,831.6 L1962.4,830.7 L1964.8,829.9 L1967.1,829.1 L1969.5,828.2 L1971.9,827.4 L1974.3,826.6" fill="none" stroke="#ff0000" stroke-width="13" stroke-dasharray="59.5 62.4" stroke-dashoffset="44.83" stroke-linejoin="round"/>
<path d="M414.1,1421.0 L414.1,1421.0 L414.1,1421.0 L414.1,1421.0 L414.2,1421.0 L414.2,1421.0 L414.2,1421.0 L414.3,1421.0 L414.4,1421.0 L414.4,1421.0 L414.5,1421.0 L414.6,1421.0 L414.7,1421.0 L414.8,1421.0 L414.9,1421.0 L415.0,1421.0 L415.1,1421.0 L415.2,1421.0 L415.4,1421.0 L415.5,1421.0 L415.7,1421.0 L415.8,1421.0 L416.0,1421.0 L416.2,1421.0 L416.4,1421.0 L416.6,1421.0 L416.8,1421.0 L417.0,1421.0 L417.2,1421.0 L417.4,1421.0 L417.6,1421.0 L417.9,1421.0 L418.1,1421.0 L418.4,1421.0 L418.7,1421.0 L418.9,1421.0 L419.2,1421.0 L419.5,1421.0 L419.8,1421.0 L420.1,1421.0 L420.4,1421.0 L420.7,1421.0 L421.1,1421.0 L421.4,1421.0 L421.7,1421.0 L422.1,1421.0 L422.4,1421.0 L422.8,1421.0 L423.2,1421.0 L423.6,1421.0 L424.0,1421.0 L424.4,1421.0 L424.8,1421.0 L425.2,1421.0 L425.6,1421.0 L426.0,1421.0 L426.5,1421.0 L426.9,1421.0 L427.4,1421.0 L427.8,1421.0 L428.3,1421.0 L428.8,1421.0 L429.3,1421.0 L429.7,1421.0 L430.2,1421.0 L430.8,1421.0 L431.3,1421.0 L431.8,1421.0 L432.3,1421.0 L432.9,1421.0 L433.4,1421.0 L434.0,1421.0 L434.5,1421.0 L435.1,1421.0 L435.7,1421.0 L436.3,1421.0 L436.9,1421.0 L437.5,1421.0 L438.1,1421.0 L438.7,1421.0 L439.3,1421.0 L440.0,1421.0 L440.6,1421.0 L441.3,1421.0 L441.9,1421.0 L442.6,1421.0 L443.2,1421.0 L443.9,1421.0 L444.6,1421.0 L445.3,1421.0 L446.0,1421.0 L446.7,1421.0 L447.5,1421.0 L448.2,1421.0 L448.9,1421.0 L449.7,1421.0 L450.4,1421.0 L451.2,1421.0 L452.0,1421.0 L452.7,1421.0 L453.5,1421.0 L454.3,1421.0 L455.1,1421.0 L455.9,1421.0 L456.7,1421.0 L457.6,1421.0 L458.4,1421.0 L459.2,1421.0 L460.1,1421.0 L460.9,1421.0 L461.8,1421.0 L462.7,1421.0 L463.5,1421.0 L464.4,1421.0 L465.3,1421.0 L466.2,1421.0 L467.1,1421.0 L468.1,1421.0 L469.0,1421.0 L469.9,1421.0 L470.9,1421.0 L471.8,1421.0 L472.8,1421.0 L473.7,1421.0 L474.7,1421.0 L475.7,1421.0 L476.7,1421.0 L477.7,1421.0 L478.7,1421.0 L479.7,1421.0 L480.7,1421.0 L481.7,1421.0 L482.8,1421.0 L483.8,1421.0 L484.9,1421.0 L485.9,1421.0 L487.0,1421.0 L488.1,1421.0 L489.2,1421.0 L490.2,1421.0 L491.3,1421.0 L492.5,1421.0 L493.6,1421.0 L494.7,1421.0 L495.8,1420.9 L497.0,1420.9 L498.1,1420.9 L499.3,1420.9 L500.4,1420.9 L501.6,1420.9 L502.8,1420.9 L504.0,1420.9 L505.2,1420.9 L506.4,1420.9 L507.6,1420.9 L508.8,1420.9 L510.0,1420.8 L511.2,1420.8 L512.5,1420.8 L513.7,1420.8 L515.0,1420.8 L516.3,1420.8 L517.5,1420.8 L518.8,1420.7 L520.1,1420.7 L521.4,1420.7 L522.7,1420.7 L524.0,1420.7 L525.3,1420.6 L526.7,1420.6 L528.0,1420.6 L529.3,1420.5 L530.7,1420.5 L532.1,1420.5 L533.4,1420.5 L534.8,1420.4 L536.2,1420.4 L537.6,1420.3 L539.0,1420.3 L540.4,1420.3 L541.8,1420.2 L543.2,1420.2 L544.6,1420.1 L546.1,1420.1 L547.5,1420.0 L549.0,1420.0 L550.5,1419.9 L551.9,1419.9 L553.4,1419.8 L554.9,1419.7 L556.4,1419.7 L557.9,1419.6 L559.4,1419.5 L560.9,1419.5 L562.4,1419.4 L564.0,1419.3 L565.5,1419.2 L567.1,1419.2 L568.6,1419.1 L570.2,1419.0 L571.7,1418.9 L573.3,1418.8 L574.9,1418.7 L576.5,1418.6 L578.1,1418.5 L579.7,1418.4 L581.4,1418.3 L583.0,1418.2 L584.6,1418.1 L586.3,1418.0 L587.9,1417.8 L589.6,1417.7 L591.2,1417.6 L592.9,1417.5 L594.6,1417.3 L596.3,1417.2 L598.0,1417.1 L599.7,1416.9 L601.4,1416.8 L603.1,1416.6 L604.9,1416.5 L606.6,1416.3 L608.3,1416.1 L610.1,1416.0 L611.9,1415.8 L613.6,1415.6 L615.4,1415.5 L617.2,1415.3 L619.0,1415.1 L620.8,1414.9 L622.6,1414.7 L624.4,1414.5 L626.2,1414.3 L628.1,1414.1 L629.9,1413.9 L631.8,1413.7 L633.6,1413.5 L635.5,1413.3 L637.3,1413.1 L639.2,1412.8 L641.1,1412.6 L643.0,1412.4 L644.9,1412.1 L646.8,1411.9 L648.7,1411.6 L650.7,1411.4 L652.6,1411.1 L654.6,1410.9 L656.5,1410.6 L658.5,1410.3 L660.4,1410.1 L662.4,1409.8 L664.4,1409.5 L666.4,1409.2 L668.4,1408.9 L670.4,1408.6 L672.4,1408.3 L674.4,1408.0 L676.4,1407.7 L678.5,1407.4 L680.5,1407.1 L682.6,1406.7 L684.6,1406.4 L686.7,1406.1 L688.8,1405.8 L690.9,1405.4 L693.0,1405.1 L695.1,1404.7 L697.2,1404.4 L699.3,1404.0 L701.4,1403.6 L703.5,1403.3 L705.7,1402.9 L707.8,1402.5 L710.0,1402.1 L712.2,1401.8 L714.3,1401.4 L716.5,1401.0 L718.7,1400.6 L720.9,1400.2 L723.1,1399.8 L725.3,1399.3 L727.5,1398.9 L729.7,1398.5 L732.0,1398.1 L734.2,1397.6 L736.5,1397.2 L738.7,1396.8 L741.0,1396.3 L743.3,1395.9 L745.6,1395.4 L747.8,1394.9 L750.1,1394.5 L752.5,1394.0 L754.8,1393.5 L757.1,1393.1 L759.4,1392.6 L761.8,1392.1 L764.1,1391.6 L766.4,1391.1 L768.8,1390.6 L771.2,1390.1 L773.6,1389.6 L775.9,1389.1 L778.3,1388.5 L780.7,1388.0 L783.1,1387.5 L785.6,1386.9 L788.0,1386.4 L790.4,1385.9 L792.9,1385.3 L795.3,1384.8 L797.8,1384.2 L800.2,1383.6 L802.7,1383.1 L805.2,1382.5 L807.7,1381.9 L810.2,1381.4 L812.7,1380.8 L815.2,1380.2 L817.7,1379.6 L820.2,1379.0 L822.7,1378.4 L825.3,1377.8 L827.8,1377.2 L830.4,1376.6 L833.0,1375.9 L835.5,1375.3 L838.1,1374.7 L840.7,1374.1 L843.3,1373.4" fill="none" stroke="#ff0000" stroke-width="13" stroke-dasharray="59.5 62.4" stroke-dashoffset="119.15" stroke-linejoin="round"/>
<path d="M1227.4,1263.8 L1228.9,1263.4 L1230.3,1262.9 L1231.8,1262.5 L1233.3,1262.0 L1234.7,1261.6 L1236.2,1261.1 L1237.7,1260.7 L1239.1,1260.2 L1240.6,1259.8 L1242.1,1259.3 L1243.6,1258.9 L1245.1,1258.4 L1246.5,1258.0 L1248.0,1257.5 L1249.5,1257.0 L1251.0,1256.6 L1252.5,1256.1 L1254.0,1255.7 L1255.4,1255.2 L1256.9,1254.8 L1258.4,1254.3 L1259.9,1253.9 L1261.4,1253.4 L1262.9,1252.9 L1264.4,1252.5 L1265.9,1252.0 L1267.4,1251.6 L1268.9,1251.1 L1270.4,1250.7 L1271.9,1250.2 L1273.4,1249.7 L1274.9,1249.3 L1276.4,1248.8 L1277.9,1248.3 L1279.4,1247.9 L1280.9,1247.4 L1282.4,1247.0 L1284.0,1246.5 L1285.5,1246.0 L1287.0,1245.6 L1288.5,1245.1 L1290.0,1244.6 L1291.5,1244.2 L1293.1,1243.7 L1294.6,1243.2 L1296.1,1242.8 L1297.6,1242.3 L1299.2,1241.8 L1300.7,1241.4 L1302.2,1240.9 L1303.7,1240.4 L1305.3,1240.0 L1306.8,1239.5 L1308.3,1239.0 L1309.9,1238.5 L1311.4,1238.1 L1312.9,1237.6 L1314.5,1237.1 L1316.0,1236.7 L1317.6,1236.2 L1319.1,1235.7 L1320.7,1235.2 L1322.2,1234.8 L1323.7,1234.3 L1325.3,1233.8 L1326.8,1233.3 L1328.4,1232.9 L1329.9,1232.4 L1331.5,1231.9 L1333.1,1231.4 L1334.6,1230.9 L1336.2,1230.5 L1337.7,1230.0 L1339.3,1229.5 L1340.9,1229.0 L1342.4,1228.5 L1344.0,1228.1 L1345.5,1227.6 L1347.1,1227.1 L1348.7,1226.6 L1350.2,1226.1 L1351.8,1225.6 L1353.4,1225.2 L1355.0,1224.7 L1356.5,1224.2 L1358.1,1223.7 L1359.7,1223.2 L1361.3,1222.7 L1362.8,1222.3 L1364.4,1221.8 L1366.0,1221.3 L1367.6,1220.8 L1369.2,1220.3 L1370.8,1219.8 L1372.4,1219.3 L1373.9,1218.8 L1375.5,1218.4 L1377.1,1217.9 L1378.7,1217.4 L1380.3,1216.9 L1381.9,1216.4 L1383.5,1215.9 L1385.1,1215.4 L1386.7,1214.9 L1388.3,1214.4 L1389.9,1213.9 L1391.5,1213.4 L1393.1,1212.9 L1394.7,1212.5 L1396.3,1212.0 L1397.9,1211.5 L1399.5,1211.0 L1401.2,1210.5 L1402.8,1210.0 L1404.4,1209.5 L1406.0,1209.0 L1407.6,1208.5 L1409.2,1208.0 L1410.9,1207.5 L1412.5,1207.0 L1414.1,1206.5 L1415.7,1206.0 L1417.3,1205.5 L1419.0,1205.0 L1420.6,1204.5 L1422.2,1204.0 L1423.9,1203.5 L1425.5,1203.0 L1427.1,1202.5 L1428.8,1202.0 L1430.4,1201.5 L1432.0,1201.0 L1433.7,1200.5 L1435.3,1200.0 L1436.9,1199.5 L1438.6,1199.0 L1440.2,1198.5 L1441.9,1198.0 L1443.5,1197.4 L1445.2,1196.9 L1446.8,1196.4 L1448.5,1195.9 L1450.1,1195.4 L1451.8,1194.9 L1453.4,1194.4 L1455.1,1193.9 L1456.7,1193.4 L1458.4,1192.9 L1460.0,1192.4 L1461.7,1191.9 L1463.4,1191.3 L1465.0,1190.8 L1466.7,1190.3 L1468.4,1189.8 L1470.0,1189.3 L1471.7,1188.8 L1473.4,1188.3 L1475.0,1187.8 L1476.7,1187.2 L1478.4,1186.7 L1480.1,1186.2 L1481.7,1185.7 L1483.4,1185.2 L1485.1,1184.7 L1486.8,1184.2 L1488.5,1183.6 L1490.1,1183.1 L1491.8,1182.6 L1493.5,1182.1 L1495.2,1181.6 L1496.9,1181.1 L1498.6,1180.5 L1500.3,1180.0 L1501.9,1179.5 L1503.6,1179.0 L1505.3,1178.5 L1507.0,1177.9 L1508.7,1177.4 L1510.4,1176.9 L1512.1,1176.4 L1513.8,1175.9 L1515.5,1175.3 L1517.2,1174.8 L1518.9,1174.3 L1520.6,1173.8 L1522.4,1173.2 L1524.1,1172.7 L1525.8,1172.2 L1527.5,1171.7 L1529.2,1171.2 L1530.9,1170.6 L1532.6,1170.1 L1534.3,1169.6 L1536.1,1169.1 L1537.8,1168.5 L1539.5,1168.0 L1541.2,1167.5 L1542.9,1166.9 L1544.7,1166.4 L1546.4,1165.9 L1548.1,1165.4 L1549.9,1164.8 L1551.6,1164.3 L1553.3,1163.8 L1555.0,1163.2 L1556.8,1162.7 L1558.5,1162.2 L1560.2,1161.7 L1562.0,1161.1 L1563.7,1160.6 L1565.5,1160.1 L1567.2,1159.5 L1569.0,1159.0 L1570.7,1158.5 L1572.4,1157.9 L1574.2,1157.4 L1575.9,1156.9 L1577.7,1156.3 L1579.4,1155.8 L1581.2,1155.3 L1582.9,1154.7 L1584.7,1154.2 L1586.5,1153.6 L1588.2,1153.1 L1590.0,1152.6 L1591.7,1152.0 L1593.5,1151.5 L1595.3,1151.0 L1597.0,1150.4 L1598.8,1149.9 L1600.6,1149.4 L1602.3,1148.8 L1604.1,1148.3 L1605.9,1147.7 L1607.6,1147.2 L1609.4,1146.7 L1611.2,1146.1 L1613.0,1145.6 L1614.7,1145.0 L1616.5,1144.5 L1618.3,1143.9 L1620.1,1143.4 L1621.9,1142.9 L1623.6,1142.3 L1625.4,1141.8 L1627.2,1141.2 L1629.0,1140.7 L1630.8,1140.1 L1632.6,1139.6 L1634.4,1139.1 L1636.2,1138.5 L1638.0,1138.0 L1639.8,1137.4 L1641.6,1136.9 L1643.3,1136.3 L1645.1,1135.8 L1646.9,1135.2 L1648.8,1134.7 L1650.6,1134.1 L1652.4,1133.6 L1654.2,1133.0 L1656.0,1132.5 L1657.8,1131.9 L1659.6,1131.4 L1661.4,1130.8 L1663.2,1130.3 L1665.0,1129.7 L1666.8,1129.2 L1668.7,1128.6 L1670.5,1128.1 L1672.3,1127.5 L1674.1,1127.0 L1675.9,1126.4 L1677.8,1125.9 L1679.6,1125.3 L1681.4,1124.8 L1683.2,1124.2 L1685.1,1123.7 L1686.9,1123.1 L1688.7,1122.6 L1690.6,1122.0 L1692.4,1121.5 L1694.2,1120.9 L1696.1,1120.4 L1697.9,1119.8 L1699.8,1119.2 L1701.6,1118.7 L1703.4,1118.1 L1705.3,1117.6 L1707.1,1117.0 L1709.0,1116.5 L1710.8,1115.9 L1712.7,1115.3 L1714.5,1114.8 L1716.4,1114.2 L1718.2,1113.7 L1720.1,1113.1 L1721.9,1112.5 L1723.8,1112.0 L1725.6,1111.4 L1727.5,1110.9 L1729.4,1110.3 L1731.2,1109.7 L1733.1,1109.2 L1734.9,1108.6 L1736.8,1108.1 L1738.7,1107.5 L1740.5,1106.9 L1742.4,1106.4 L1744.3,1105.8 L1746.2,1105.2 L1748.0,1104.7 L1749.9,1104.1 L1751.8,1103.6 L1753.7,1103.0 L1755.5,1102.4 L1757.4,1101.9 L1759.3,1101.3 L1761.2,1100.7 L1763.1,1100.2 L1765.0,1099.6 L1766.8,1099.0 L1768.7,1098.5 L1770.6,1097.9 L1772.5,1097.3 L1774.4,1096.8 L1776.3,1096.2 L1778.2,1095.6 L1780.1,1095.1 L1782.0,1094.5 L1783.9,1093.9 L1785.8,1093.4 L1787.7,1092.8 L1789.6,1092.2 L1791.5,1091.6 L1793.4,1091.1 L1795.3,1090.5 L1797.2,1089.9 L1799.1,1089.4 L1801.0,1088.8 L1802.9,1088.2 L1804.8,1087.6 L1806.8,1087.1 L1808.7,1086.5 L1810.6,1085.9 L1812.5,1085.4 L1814.4,1084.8 L1816.4,1084.2 L1818.3,1083.6 L1820.2,1083.1 L1822.1,1082.5 L1824.0,1081.9 L1826.0,1081.3 L1827.9,1080.8 L1829.8,1080.2 L1831.8,1079.6 L1833.7,1079.0 L1835.6,1078.5 L1837.6,1077.9 L1839.5,1077.3 L1841.4,1076.7 L1843.4,1076.1 L1845.3,1075.6 L1847.3,1075.0 L1849.2,1074.4 L1851.2,1073.8 L1853.1,1073.3 L1855.0,1072.7 L1857.0,1072.1 L1858.9,1071.5 L1860.9,1070.9 L1862.8,1070.4 L1864.8,1069.8 L1866.8,1069.2 L1868.7,1068.6 L1870.7,1068.0 L1872.6,1067.5 L1874.6,1066.9 L1876.5,1066.3 L1878.5,1065.7 L1880.5,1065.1 L1882.4,1064.5 L1884.4,1064.0 L1886.4,1063.4 L1888.3,1062.8 L1890.3,1062.2 L1892.3,1061.6 L1894.3,1061.0 L1896.2,1060.5 L1898.2,1059.9 L1900.2,1059.3 L1902.2,1058.7 L1904.1,1058.1 L1906.1,1057.5 L1908.1,1056.9 L1910.1,1056.4 L1912.1,1055.8 L1914.1,1055.2 L1916.1,1054.6 L1918.0,1054.0 L1920.0,1053.4 L1922.0,1052.8 L1924.0,1052.3 L1926.0,1051.7 L1928.0,1051.1 L1930.0,1050.5 L1932.0,1049.9 L1934.0,1049.3 L1936.0,1048.7 L1938.0,1048.1 L1940.0,1047.5 L1942.0,1046.9 L1944.0,1046.4 L1946.0,1045.8 L1948.0,1045.2 L1950.1,1044.6 L1952.1,1044.0 L1954.1,1043.4 L1956.1,1042.8 L1958.1,1042.2 L1960.1,1041.6 L1962.1,1041.0 L1964.2,1040.4 L1966.2,1039.8 L1968.2,1039.3 L1970.2,1038.7 L1972.3,1038.1 L1974.3,1037.5" fill="none" stroke="#ff0000" stroke-width="13" stroke-dasharray="59.5 62.4" stroke-dashoffset="98.72" stroke-linejoin="round"/>
<path d="M414.1,1421.0 L414.1,1419.9 L414.1,1418.8 L414.1,1417.8 L414.1,1416.7 L414.1,1415.6 L414.1,1414.5 L414.2,1413.4 L414.2,1412.4 L414.2,1411.3 L414.2,1410.2 L414.2,1409.1 L414.3,1408.0 L414.3,1407.0 L414.3,1405.9 L414.4,1404.8 L414.4,1403.7 L414.4,1402.6 L414.5,1401.6 L414.5,1400.5 L414.6,1399.4 L414.6,1398.3 L414.7,1397.2 L414.7,1396.2 L414.8,1395.1 L414.8,1394.0 L414.9,1392.9 L415.0,1391.8 L415.0,1390.8 L415.1,1389.7 L415.1,1388.6 L415.2,1387.5 L415.3,1386.4 L415.4,1385.4 L415.4,1384.3 L415.5,1383.2 L415.6,1382.1 L415.7,1381.0 L415.8,1380.0 L415.9,1378.9 L416.0,1377.8 L416.1,1376.7 L416.2,1375.6 L416.3,1374.6 L416.4,1373.5 L416.5,1372.4 L416.6,1371.3 L416.7,1370.2 L416.8,1369.2 L416.9,1368.1 L417.0,1367.0 L417.1,1365.9 L417.3,1364.8 L417.4,1363.8 L417.5,1362.7 L417.6,1361.6 L417.8,1360.5 L417.9,1359.4 L418.0,1358.4 L418.2,1357.3 L418.3,1356.2 L418.4,1355.1 L418.6,1354.0 L418.7,1353.0 L418.9,1351.9 L419.0,1350.8 L419.2,1349.7 L419.3,1348.6 L419.5,1347.6 L419.7,1346.5 L419.8,1345.4 L420.0,1344.3 L420.1,1343.2 L420.3,1342.2 L420.5,1341.1 L420.7,1340.0 L420.8,1338.9 L421.0,1337.8 L421.2,1336.8 L421.4,1335.7 L421.6,1334.6 L421.8,1333.5 L421.9,1332.4 L422.1,1331.4 L422.3,1330.3 L422.5,1329.2 L422.7,1328.1 L422.9,1327.0 L423.1,1326.0 L423.3,1324.9 L423.5,1323.8 L423.8,1322.7 L424.0,1321.6 L424.2,1320.6 L424.4,1319.5 L424.6,1318.4 L424.8,1317.3 L425.1,1316.2 L425.3,1315.2 L425.5,1314.1 L425.8,1313.0 L426.0,1311.9 L426.2,1310.8 L426.5,1309.8 L426.7,1308.7 L427.0,1307.6 L427.2,1306.5 L427.4,1305.4 L427.7,1304.4 L428.0,1303.3 L428.2,1302.2 L428.5,1301.1 L428.7,1300.0 L429.0,1299.0 L429.3,1297.9 L429.5,1296.8 L429.8,1295.7 L430.1,1294.6 L430.3,1293.6 L430.6,1292.5 L430.9,1291.4 L431.2,1290.3 L431.5,1289.2 L431.7,1288.2 L432.0,1287.1 L432.3,1286.0 L432.6,1284.9 L432.9,1283.8 L433.2,1282.8 L433.5,1281.7 L433.8,1280.6 L434.1,1279.5 L434.4,1278.4 L434.7,1277.4 L435.0,1276.3 L435.4,1275.2 L435.7,1274.1 L436.0,1273.0 L436.3,1272.0 L436.6,1270.9 L437.0,1269.8 L437.3,1268.7 L437.6,1267.6 L437.9,1266.6 L438.3,1265.5 L438.6,1264.4 L439.0,1263.3 L439.3,1262.2 L439.6,1261.2 L440.0,1260.1 L440.3,1259.0 L440.7,1257.9 L441.0,1256.8 L441.4,1255.8 L441.8,1254.7 L442.1,1253.6 L442.5,1252.5 L442.8,1251.4 L443.2,1250.4 L443.6,1249.3 L444.0,1248.2 L444.3,1247.1 L444.7,1246.0 L445.1,1245.0 L445.5,1243.9 L445.8,1242.8 L446.2,1241.7 L446.6,1240.6 L447.0,1239.6 L447.4,1238.5 L447.8,1237.4 L448.2,1236.3 L448.6,1235.2 L449.0,1234.2 L449.4,1233.1 L449.8,1232.0 L450.2,1230.9 L450.6,1229.8 L451.0,1228.8 L451.5,1227.7 L451.9,1226.6 L452.3,1225.5 L452.7,1224.4 L453.1,1223.4 L453.6,1222.3 L454.0,1221.2 L454.4,1220.1 L454.9,1219.0 L455.3,1218.0 L455.8,1216.9 L456.2,1215.8 L456.6,1214.7 L457.1,1213.6 L457.5,1212.6 L458.0,1211.5 L458.4,1210.4 L458.9,1209.3 L459.4,1208.2 L459.8,1207.1 L460.3,1206.1 L460.7,1205.0 L461.2,1203.9 L461.7,1202.8 L462.2,1201.7 L462.6,1200.7 L463.1,1199.6 L463.6,1198.5 L464.1,1197.4 L464.5,1196.3 L465.0,1195.3 L465.5,1194.2 L466.0,1193.1 L466.5,1192.0 L467.0,1190.9 L467.5,1189.9 L468.0,1188.8" fill="none" stroke="#0000ff" stroke-width="13.1" stroke-linejoin="round"/>
<path d="M562.9,1035.2 L564.0,1033.8 L565.0,1032.4 L566.1,1031.1 L567.1,1029.7 L568.2,1028.3 L569.3,1027.0 L570.4,1025.6 L571.5,1024.2 L572.5,1022.9 L573.6,1021.5 L574.7,1020.1 L575.8,1018.8 L576.9,1017.4 L578.0,1016.0 L579.1,1014.7 L580.2,1013.3 L581.4,1011.9 L582.5,1010.6 L583.6,1009.2 L584.7,1007.8 L585.9,1006.5 L587.0,1005.1 L588.1,1003.7 L589.3,1002.4 L590.4,1001.0 L591.6,999.6 L592.7,998.3 L593.9,996.9 L595.0,995.5 L596.2,994.2 L597.4,992.8 L598.5,991.4 L599.7,990.1 L600.9,988.7 L602.1,987.3 L603.3,986.0 L604.4,984.6 L605.6,983.2 L606.8,981.9 L608.0,980.5 L609.2,979.1 L610.5,977.8 L611.7,976.4 L612.9,975.0 L614.1,973.7 L615.3,972.3 L616.6,970.9 L617.8,969.6 L619.0,968.2 L620.3,966.8 L621.5,965.5 L622.7,964.1 L624.0,962.7 L625.3,961.4 L626.5,960.0 L627.8,958.6 L629.0,957.3 L630.3,955.9 L631.6,954.5 L632.9,953.2 L634.1,951.8 L635.4,950.4 L636.7,949.1 L638.0,947.7 L639.3,946.3 L640.6,945.0 L641.9,943.6 L643.2,942.2 L644.5,940.9 L645.8,939.5 L647.1,938.1 L648.5,936.8 L649.8,935.4 L651.1,934.0 L652.4,932.7 L653.8,931.3 L655.1,929.9 L656.5,928.6 L657.8,927.2 L659.2,925.8 L660.5,924.5 L661.9,923.1 L663.2,921.7 L664.6,920.3 L666.0,919.0 L667.3,917.6 L668.7,916.2 L670.1,914.9 L671.5,913.5 L672.9,912.1 L674.3,910.8 L675.7,909.4 L677.0,908.0 L678.5,906.7 L679.9,905.3 L681.3,903.9 L682.7,902.6 L684.1,901.2 L685.5,899.8 L686.9,898.5 L688.4,897.1 L689.8,895.7 L691.2,894.4 L692.7,893.0 L694.1,891.6 L695.6,890.3 L697.0,888.9 L698.5,887.5 L699.9,886.2 L701.4,884.8 L702.9,883.4 L704.3,882.1 L705.8,880.7 L707.3,879.3 L708.8,877.9 L710.3,876.6 L711.7,875.2 L713.2,873.8 L714.7,872.5 L716.2,871.1 L717.7,869.7 L719.2,868.4 L720.8,867.0 L722.3,865.6 L723.8,864.3 L725.3,862.9 L726.8,861.5 L728.4,860.2 L729.9,858.8 L731.4,857.4 L733.0,856.1 L734.5,854.7 L736.1,853.3 L737.6,851.9 L739.2,850.6 L740.7,849.2 L742.3,847.8 L743.9,846.5 L745.4,845.1 L747.0,843.7 L748.6,842.4 L750.2,841.0 L751.8,839.6 L753.4,838.3 L754.9,836.9 L756.5,835.5 L758.1,834.2 L759.7,832.8 L761.4,831.4 L763.0,830.0 L764.6,828.7 L766.2,827.3 L767.8,825.9 L769.5,824.6 L771.1,823.2 L772.7,821.8 L774.4,820.5 L776.0,819.1 L777.6,817.7 L779.3,816.3 L780.9,815.0 L782.6,813.6 L784.3,812.2 L785.9,810.9 L787.6,809.5 L789.3,808.1 L790.9,806.8 L792.6,805.4 L794.3,804.0 L796.0,802.6 L797.7,801.3 L799.4,799.9 L801.1,798.5 L802.8,797.2 L804.5,795.8 L806.2,794.4 L807.9,793.0 L809.6,791.7 L811.3,790.3 L813.1,788.9 L814.8,787.6 L816.5,786.2 L818.2,784.8 L820.0,783.5 L821.7,782.1 L823.5,780.7 L825.2,779.3 L827.0,778.0 L828.7,776.6 L830.5,775.2 L832.3,773.9 L834.0,772.5 L835.8,771.1 L837.6,769.7 L839.4,768.4 L841.1,767.0 L842.9,765.6 L844.7,764.2 L846.5,762.9 L848.3,761.5 L850.1,760.1 L851.9,758.8 L853.7,757.4 L855.5,756.0 L857.4,754.6 L859.2,753.3 L861.0,751.9 L862.8,750.5 L864.7,749.1 L866.5,747.8 L868.3,746.4 L870.2,745.0 L872.0,743.7 L873.9,742.3 L875.7,740.9 L877.6,739.5 L879.5,738.2 L881.3,736.8 L883.2,735.4 L885.1,734.0 L886.9,732.7 L888.8,731.3 L890.7,729.9 L892.6,728.5 L894.5,727.2 L896.4,725.8 L898.3,724.4 L900.2,723.0 L902.1,721.7 L904.0,720.3 L905.9,718.9 L907.8,717.5 L909.8,716.2 L911.7,714.8 L913.6,713.4 L915.5,712.0 L917.5,710.7 L919.4,709.3 L921.4,707.9 L923.3,706.5 L925.3,705.2 L927.2,703.8 L929.2,702.4 L931.1,701.0 L933.1,699.6 L935.1,698.3 L937.1,696.9 L939.0,695.5 L941.0,694.1 L943.0,692.8 L945.0,691.4 L947.0,690.0 L949.0,688.6 L951.0,687.2 L953.0,685.9 L955.0,684.5 L957.0,683.1 L959.0,681.7 L961.0,680.4 L963.0,679.0 L965.1,677.6 L967.1,676.2 L969.1,674.8 L971.2,673.5 L973.2,672.1 L975.3,670.7 L977.3,669.3 L979.4,667.9 L981.4,666.6 L983.5,665.2 L985.5,663.8 L987.6,662.4 L989.7,661.0 L991.8,659.7 L993.8,658.3 L995.9,656.9 L998.0,655.5 L1000.1,654.1 L1002.2,652.7 L1004.3,651.4 L1006.4,650.0 L1008.5,648.6 L1010.6,647.2 L1012.7,645.8 L1014.8,644.4 L1016.9,643.1 L1019.1,641.7 L1021.2,640.3 L1023.3,638.9 L1025.5,637.5 L1027.6,636.1 L1029.7,634.8 L1031.9,633.4 L1034.0,632.0 L1036.2,630.6 L1038.3,629.2 L1040.5,627.8 L1042.7,626.5 L1044.8,625.1 L1047.0,623.7 L1049.2,622.3 L1051.4,620.9 L1053.5,619.5 L1055.7,618.1 L1057.9,616.7 L1060.1,615.4 L1062.3,614.0 L1064.5,612.6 L1066.7,611.2 L1068.9,609.8 L1071.1,608.4 L1073.4,607.0 L1075.6,605.6 L1077.8,604.3 L1080.0,602.9 L1082.3,601.5 L1084.5,600.1 L1086.7,598.7 L1089.0,597.3 L1091.2,595.9 L1093.5,594.5 L1095.7,593.1 L1098.0,591.7 L1100.2,590.3 L1102.5,589.0 L1104.8,587.6 L1107.0,586.2 L1109.3,584.8 L1111.6,583.4 L1113.9,582.0 L1116.2,580.6 L1118.5,579.2 L1120.8,577.8 L1123.1,576.4 L1125.4,575.0 L1127.7,573.6 L1130.0,572.2 L1132.3,570.8 L1134.6,569.4 L1136.9,568.0 L1139.3,566.6 L1141.6,565.2 L1143.9,563.9 L1146.2,562.5 L1148.6,561.1 L1150.9,559.7 L1153.3,558.3 L1155.6,556.9 L1158.0,555.5 L1160.3,554.1 L1162.7,552.7 L1165.1,551.3 L1167.4,549.9 L1169.8,548.5 L1172.2,547.1 L1174.6,545.7 L1177.0,544.3 L1179.3,542.9 L1181.7,541.5 L1184.1,540.1 L1186.5,538.6 L1188.9,537.2 L1191.3,535.8 L1193.7,534.4 L1196.2,533.0 L1198.6,531.6 L1201.0,530.2 L1203.4,528.8 L1205.9,527.4 L1208.3,526.0 L1210.7,524.6 L1213.2,523.2 L1215.6,521.8 L1218.1,520.4 L1220.5,519.0 L1223.0,517.6 L1225.4,516.2 L1227.9,514.7 L1230.4,513.3 L1232.8,511.9 L1235.3,510.5 L1237.8,509.1 L1240.3,507.7 L1242.7,506.3 L1245.2,504.9 L1247.7,503.5 L1250.2,502.0 L1252.7,500.6 L1255.2,499.2 L1257.7,497.8 L1260.2,496.4 L1262.8,495.0 L1265.3,493.6 L1267.8,492.1 L1270.3,490.7 L1272.9,489.3 L1275.4,487.9 L1277.9,486.5 L1280.5,485.0 L1283.0,483.6 L1285.6,482.2 L1288.1,480.8 L1290.7,479.4 L1293.2,477.9 L1295.8,476.5 L1298.4,475.1 L1300.9,473.7 L1303.5,472.3 L1306.1,470.8 L1308.7,469.4 L1311.3,468.0 L1313.8,466.6 L1316.4,465.1 L1319.0,463.7 L1321.6,462.3 L1324.2,460.9 L1326.8,459.4 L1329.5,458.0 L1332.1,456.6 L1334.7,455.1 L1337.3,453.7 L1339.9,452.3 L1342.6,450.8 L1345.2,449.4 L1347.8,448.0 L1350.5,446.5 L1353.1,445.1 L1355.8,443.7 L1358.4,442.2 L1361.1,440.8 L1363.8,439.4 L1366.4,437.9 L1369.1,436.5 L1371.8,435.1 L1374.4,433.6 L1377.1,432.2 L1379.8,430.7 L1382.5,429.3 L1385.2,427.9 L1387.9,426.4 L1390.6,425.0 L1393.3,423.5 L1396.0,422.1 L1398.7,420.7 L1401.4,419.2 L1404.1,417.8 L1406.8,416.3 L1409.6,414.9 L1412.3,413.4 L1415.0,412.0 L1417.7,410.5 L1420.5,409.1 L1423.2,407.6 L1426.0,406.2 L1428.7,404.7 L1431.5,403.3 L1434.2,401.8 L1437.0,400.4 L1439.8,398.9 L1442.5,397.5 L1445.3,396.0 L1448.1,394.5 L1450.9,393.1 L1453.6,391.6 L1456.4,390.2 L1459.2,388.7 L1462.0,387.2 L1464.8,385.8 L1467.6,384.3 L1470.4,382.9 L1473.2,381.4 L1476.0,379.9 L1478.9,378.5 L1481.7,377.0 L1484.5,375.5 L1487.3,374.1 L1490.2,372.6 L1493.0,371.1 L1495.8,369.6 L1498.7,368.2 L1501.5,366.7 L1504.4,365.2 L1507.2,363.8 L1510.1,362.3 L1513.0,360.8 L1515.8,359.3 L1518.7,357.9 L1521.6,356.4 L1524.4,354.9 L1527.3,353.4 L1530.2,351.9 L1533.1,350.5 L1536.0,349.0 L1538.9,347.5 L1541.8,346.0 L1544.7,344.5 L1547.6,343.0 L1550.5,341.5 L1553.4,340.1 L1556.3,338.6 L1559.3,337.1 L1562.2,335.6 L1565.1,334.1 L1568.1,332.6 L1571.0,331.1 L1573.9,329.6 L1576.9,328.1 L1579.8,326.6 L1582.8,325.1 L1585.7,323.6 L1588.7,322.1 L1591.6,320.6 L1594.6,319.1 L1597.6,317.6 L1600.6,316.1 L1603.5,314.6 L1606.5,313.1 L1609.5,311.6 L1612.5,310.1 L1615.5,308.6 L1618.5,307.0 L1621.5,305.5 L1624.5,304.0 L1627.5,302.5 L1630.5,301.0 L1633.5,299.5 L1636.5,297.9 L1639.6,296.4 L1642.6,294.9 L1645.6,293.4 L1648.7,291.9 L1651.7,290.3 L1654.7,288.8 L1657.8,287.3 L1660.8,285.8 L1663.9,284.2 L1666.9,282.7 L1670.0,281.2 L1673.1,279.6 L1676.1,278.1 L1679.2,276.6 L1682.3,275.0 L1685.3,273.5 L1688.4,271.9 L1691.5,270.4 L1694.6,268.9 L1697.7,267.3 L1700.8,265.8 L1703.9,264.2 L1707.0,262.7 L1710.1,261.1 L1713.2,259.6 L1716.3,258.0 L1719.5,256.5 L1722.6,254.9 L1725.7,253.4 L1728.8,251.8 L1732.0,250.2 L1735.1,248.7 L1738.3,247.1 L1741.4,245.6 L1744.5,244.0 L1747.7,242.4 L1750.9,240.9 L1754.0,239.3 L1757.2,237.7 L1760.3,236.2 L1763.5,234.6 L1766.7,233.0 L1769.9,231.4 L1773.1,229.9 L1776.2,228.3 L1779.4,226.7 L1782.6,225.1 L1785.8,223.5 L1789.0,221.9 L1792.2,220.4 L1795.4,218.8 L1798.7,217.2 L1801.9,215.6 L1805.1,214.0 L1808.3,212.4 L1811.5,210.8 L1814.8,209.2 L1818.0,207.6 L1821.3,206.0 L1824.5,204.4 L1827.7,202.8 L1831.0,201.2 L1834.2,199.6 L1837.5,198.0 L1840.8,196.3 L1844.0,194.7 L1847.3,193.1 L1850.6,191.5 L1853.8,189.9 L1857.1,188.3 L1860.4,186.6 L1863.7,185.0 L1867.0,183.4 L1870.3,181.8 L1873.6,180.1 L1876.9,178.5 L1880.2,176.9 L1883.5,175.2 L1886.8,173.6 L1890.1,171.9 L1893.5,170.3 L1896.8,168.7 L1900.1,167.0 L1903.4,165.4 L1906.8,163.7 L1910.1,162.1 L1913.5,160.4 L1916.8,158.8 L1920.2,157.1 L1923.5,155.4 L1926.9,153.8 L1930.2,152.1 L1933.6,150.5 L1937.0,148.8 L1940.3,147.1 L1943.7,145.4 L1947.1,143.8 L1950.5,142.1 L1953.9,140.4 L1957.3,138.7 L1960.7,137.1 L1964.1,135.4 L1967.5,133.7 L1970.9,132.0 L1974.3,130.3" fill="none" stroke="#0000ff" stroke-width="13.1" stroke-linejoin="round"/>
<path d="M414.1,1421.0 L414.1,1421.0 L414.1,1421.0 L414.1,1421.0 L414.1,1421.0 L414.1,1421.0 L414.2,1421.0 L414.2,1421.0 L414.2,1421.0 L414.2,1421.0 L414.3,1421.0 L414.3,1421.0 L414.3,1421.0 L414.4,1421.0 L414.4,1421.0 L414.5,1421.0 L414.5,1421.0 L414.6,1421.0 L414.6,1421.0 L414.7,1421.0 L414.7,1421.0 L414.8,1421.0 L414.9,1421.0 L414.9,1421.0 L415.0,1421.0 L415.1,1421.0 L415.2,1421.0 L415.3,1421.0 L415.3,1421.0 L415.4,1421.0 L415.5,1421.0 L415.6,1421.0 L415.7,1421.0 L415.8,1421.0 L415.9,1421.0 L416.0,1421.0 L416.1,1421.0 L416.3,1421.0 L416.4,1421.0 L416.5,1421.0 L416.6,1421.0 L416.8,1421.0 L416.9,1421.0 L417.0,1421.0 L417.2,1421.0 L417.3,1421.0 L417.4,1421.0 L417.6,1421.0 L417.7,1421.0 L417.9,1421.0 L418.0,1421.0 L418.2,1421.0 L418.4,1421.0 L418.5,1421.0 L418.7,1421.0 L418.9,1421.0 L419.1,1421.0 L419.2,1421.0 L419.4,1421.0 L419.6,1421.0 L419.8,1421.0 L420.0,1421.0 L420.2,1421.0 L420.4,1421.0 L420.6,1421.0 L420.8,1421.0 L421.0,1421.0 L421.2,1421.0 L421.4,1421.0 L421.6,1421.0 L421.8,1421.0 L422.1,1421.0 L422.3,1421.0 L422.5,1421.0 L422.7,1421.0 L423.0,1421.0 L423.2,1421.0 L423.5,1421.0 L423.7,1421.0 L424.0,1421.0 L424.2,1421.0 L424.5,1421.0 L424.7,1421.0 L425.0,1420.9 L425.2,1420.9 L425.5,1420.9 L425.8,1420.9 L426.0,1420.9 L426.3,1420.9 L426.6,1420.9 L426.9,1420.8 L427.2,1420.8 L427.5,1420.8 L427.8,1420.8 L428.0,1420.8 L428.3,1420.7 L428.6,1420.7 L429.0,1420.7 L429.3,1420.6 L429.6,1420.6 L429.9,1420.6 L430.2,1420.5 L430.5,1420.5 L430.8,1420.4 L431.2,1420.4 L431.5,1420.3 L431.8,1420.3 L432.2,1420.2 L432.5,1420.1 L432.9,1420.1 L433.2,1420.0 L433.5,1419.9 L433.9,1419.8 L434.3,1419.8 L434.6,1419.7 L435.0,1419.6 L435.3,1419.5 L435.7,1419.4 L436.1,1419.3 L436.5,1419.2 L436.8,1419.0 L437.2,1418.9 L437.6,1418.8 L438.0,1418.7 L438.4,1418.5 L438.8,1418.4 L439.2,1418.3 L439.6,1418.1 L440.0,1418.0 L440.4,1417.8 L440.8,1417.6 L441.2,1417.5 L441.6,1417.3 L442.0,1417.1 L442.4,1416.9 L442.9,1416.7 L443.3,1416.5 L443.7,1416.3 L444.2,1416.1 L444.6,1415.9 L445.0,1415.7 L445.5,1415.5 L445.9,1415.3 L446.4,1415.0 L446.8,1414.8 L447.3,1414.5 L447.7,1414.3 L448.2,1414.0 L448.7,1413.8 L449.1,1413.5 L449.6,1413.2 L450.1,1413.0 L450.6,1412.7 L451.1,1412.4 L451.5,1412.1 L452.0,1411.8 L452.5,1411.5 L453.0,1411.2 L453.5,1410.9 L454.0,1410.5 L454.5,1410.2 L455.0,1409.9 L455.5,1409.5 L456.0,1409.2 L456.6,1408.9 L457.1,1408.5 L457.6,1408.1 L458.1,1407.8 L458.7,1407.4 L459.2,1407.0 L459.7,1406.6 L460.3,1406.3 L460.8,1405.9 L461.3,1405.5 L461.9,1405.1 L462.4,1404.7 L463.0,1404.2 L463.6,1403.8 L464.1,1403.4 L464.7,1403.0 L465.2,1402.5 L465.8,1402.1 L466.4,1401.6 L467.0,1401.2 L467.5,1400.7 L468.1,1400.3 L468.7,1399.8 L469.3,1399.3 L469.9,1398.9 L470.5,1398.4 L471.1,1397.9 L471.7,1397.4 L472.3,1396.9 L472.9,1396.4 L473.5,1395.9 L474.1,1395.4 L474.7,1394.9 L475.4,1394.4 L476.0,1393.9 L476.6,1393.3 L477.2,1392.8 L477.9,1392.3 L478.5,1391.7 L479.2,1391.2 L479.8,1390.6 L480.4,1390.1 L481.1,1389.5 L481.7,1389.0 L482.4,1388.4 L483.1,1387.8 L483.7,1387.2 L484.4,1386.7 L485.0,1386.1 L485.7,1385.5 L486.4,1384.9 L487.1,1384.3 L487.7,1383.7 L488.4,1383.1 L489.1,1382.5 L489.8,1381.9 L490.5,1381.2 L491.2,1380.6 L491.9,1380.0 L492.6,1379.4" fill="none" stroke="#0000ff" stroke-width="13.1" stroke-linejoin="round"/>
<path d="M796.0,1129.3 L797.4,1128.3 L798.8,1127.3 L800.2,1126.3 L801.6,1125.3 L803.0,1124.3 L804.4,1123.4 L805.8,1122.4 L807.2,1121.4 L808.6,1120.4 L810.1,1119.4 L811.5,1118.4 L812.9,1117.4 L814.3,1116.5 L815.7,1115.5 L817.2,1114.5 L818.6,1113.5 L820.0,1112.5 L821.5,1111.5 L822.9,1110.5 L824.4,1109.5 L825.8,1108.5 L827.3,1107.5 L828.7,1106.5 L830.2,1105.5 L831.6,1104.5 L833.1,1103.6 L834.5,1102.6 L836.0,1101.6 L837.5,1100.6 L838.9,1099.6 L840.4,1098.6 L841.9,1097.6 L843.3,1096.6 L844.8,1095.6 L846.3,1094.6 L847.8,1093.6 L849.3,1092.6 L850.8,1091.6 L852.3,1090.6 L853.7,1089.6 L855.2,1088.6 L856.7,1087.6 L858.2,1086.6 L859.7,1085.6 L861.3,1084.6 L862.8,1083.6 L864.3,1082.5 L865.8,1081.5 L867.3,1080.5 L868.8,1079.5 L870.3,1078.5 L871.9,1077.5 L873.4,1076.5 L874.9,1075.5 L876.4,1074.5 L878.0,1073.5 L879.5,1072.5 L881.1,1071.5 L882.6,1070.4 L884.1,1069.4 L885.7,1068.4 L887.2,1067.4 L888.8,1066.4 L890.3,1065.4 L891.9,1064.4 L893.5,1063.4 L895.0,1062.3 L896.6,1061.3 L898.2,1060.3 L899.7,1059.3 L901.3,1058.3 L902.9,1057.3 L904.4,1056.2 L906.0,1055.2 L907.6,1054.2 L909.2,1053.2 L910.8,1052.2 L912.4,1051.2 L914.0,1050.1 L915.6,1049.1 L917.2,1048.1 L918.8,1047.1 L920.4,1046.1 L922.0,1045.0 L923.6,1044.0 L925.2,1043.0 L926.8,1042.0 L928.4,1040.9 L930.0,1039.9 L931.6,1038.9 L933.3,1037.9 L934.9,1036.8 L936.5,1035.8 L938.2,1034.8 L939.8,1033.8 L941.4,1032.7 L943.1,1031.7 L944.7,1030.7 L946.3,1029.7 L948.0,1028.6 L949.6,1027.6 L951.3,1026.6 L952.9,1025.5 L954.6,1024.5 L956.3,1023.5 L957.9,1022.4 L959.6,1021.4 L961.2,1020.4 L962.9,1019.4 L964.6,1018.3 L966.3,1017.3 L967.9,1016.3 L969.6,1015.2 L971.3,1014.2 L973.0,1013.2 L974.7,1012.1 L976.4,1011.1 L978.0,1010.0 L979.7,1009.0 L981.4,1008.0 L983.1,1006.9 L984.8,1005.9 L986.5,1004.9 L988.2,1003.8 L990.0,1002.8 L991.7,1001.7 L993.4,1000.7 L995.1,999.7 L996.8,998.6 L998.5,997.6 L1000.3,996.5 L1002.0,995.5 L1003.7,994.5 L1005.4,993.4 L1007.2,992.4 L1008.9,991.3 L1010.7,990.3 L1012.4,989.2 L1014.1,988.2 L1015.9,987.1 L1017.6,986.1 L1019.4,985.1 L1021.1,984.0 L1022.9,983.0 L1024.7,981.9 L1026.4,980.9 L1028.2,979.8 L1030.0,978.8 L1031.7,977.7 L1033.5,976.7 L1035.3,975.6 L1037.1,974.6 L1038.8,973.5 L1040.6,972.5 L1042.4,971.4 L1044.2,970.4 L1046.0,969.3 L1047.8,968.3 L1049.6,967.2 L1051.4,966.2 L1053.2,965.1 L1055.0,964.1 L1056.8,963.0 L1058.6,961.9 L1060.4,960.9 L1062.2,959.8 L1064.0,958.8 L1065.8,957.7 L1067.7,956.7 L1069.5,955.6 L1071.3,954.5 L1073.1,953.5 L1075.0,952.4 L1076.8,951.4 L1078.6,950.3 L1080.5,949.2 L1082.3,948.2 L1084.2,947.1 L1086.0,946.1 L1087.9,945.0 L1089.7,943.9 L1091.6,942.9 L1093.4,941.8 L1095.3,940.8 L1097.1,939.7 L1099.0,938.6 L1100.9,937.6 L1102.7,936.5 L1104.6,935.4 L1106.5,934.4 L1108.4,933.3 L1110.2,932.2 L1112.1,931.2 L1114.0,930.1 L1115.9,929.0 L1117.8,928.0 L1119.7,926.9 L1121.6,925.8 L1123.5,924.8 L1125.4,923.7 L1127.3,922.6 L1129.2,921.5 L1131.1,920.5 L1133.0,919.4 L1134.9,918.3 L1136.8,917.3 L1138.7,916.2 L1140.7,915.1 L1142.6,914.0 L1144.5,913.0 L1146.4,911.9 L1148.4,910.8 L1150.3,909.7 L1152.2,908.7 L1154.2,907.6 L1156.1,906.5 L1158.1,905.4 L1160.0,904.3 L1161.9,903.3 L1163.9,902.2 L1165.9,901.1 L1167.8,900.0 L1169.8,898.9 L1171.7,897.9 L1173.7,896.8 L1175.7,895.7 L1177.6,894.6 L1179.6,893.5 L1181.6,892.4 L1183.5,891.4 L1185.5,890.3 L1187.5,889.2 L1189.5,888.1 L1191.5,887.0 L1193.5,885.9 L1195.5,884.9 L1197.4,883.8 L1199.4,882.7 L1201.4,881.6 L1203.4,880.5 L1205.4,879.4 L1207.5,878.3 L1209.5,877.2 L1211.5,876.1 L1213.5,875.1 L1215.5,874.0 L1217.5,872.9 L1219.5,871.8 L1221.6,870.7 L1223.6,869.6 L1225.6,868.5 L1227.7,867.4 L1229.7,866.3 L1231.7,865.2 L1233.8,864.1 L1235.8,863.0 L1237.8,861.9 L1239.9,860.8 L1241.9,859.7 L1244.0,858.6 L1246.1,857.5 L1248.1,856.4 L1250.2,855.3 L1252.2,854.2 L1254.3,853.1 L1256.4,852.0 L1258.4,850.9 L1260.5,849.8 L1262.6,848.7 L1264.7,847.6 L1266.7,846.5 L1268.8,845.4 L1270.9,844.3 L1273.0,843.2 L1275.1,842.1 L1277.2,841.0 L1279.3,839.9 L1281.4,838.8 L1283.5,837.7 L1285.6,836.5 L1287.7,835.4 L1289.8,834.3 L1291.9,833.2 L1294.0,832.1 L1296.1,831.0 L1298.2,829.9 L1300.4,828.8 L1302.5,827.7 L1304.6,826.5 L1306.7,825.4 L1308.9,824.3 L1311.0,823.2 L1313.1,822.1 L1315.3,821.0 L1317.4,819.8 L1319.6,818.7 L1321.7,817.6 L1323.9,816.5 L1326.0,815.4 L1328.2,814.2 L1330.3,813.1 L1332.5,812.0 L1334.6,810.9 L1336.8,809.8 L1339.0,808.6 L1341.1,807.5 L1343.3,806.4 L1345.5,805.3 L1347.7,804.1 L1349.8,803.0 L1352.0,801.9 L1354.2,800.8 L1356.4,799.6 L1358.6,798.5 L1360.8,797.4 L1363.0,796.2 L1365.2,795.1 L1367.4,794.0 L1369.6,792.8 L1371.8,791.7 L1374.0,790.6 L1376.2,789.4 L1378.4,788.3 L1380.6,787.2 L1382.8,786.0 L1385.0,784.9 L1387.3,783.8 L1389.5,782.6 L1391.7,781.5 L1393.9,780.3 L1396.2,779.2 L1398.4,778.1 L1400.7,776.9 L1402.9,775.8 L1405.1,774.6 L1407.4,773.5 L1409.6,772.3 L1411.9,771.2 L1414.1,770.1 L1416.4,768.9 L1418.6,767.8 L1420.9,766.6 L1423.2,765.5 L1425.4,764.3 L1427.7,763.2 L1430.0,762.0 L1432.2,760.9 L1434.5,759.7 L1436.8,758.6 L1439.1,757.4 L1441.4,756.3 L1443.6,755.1 L1445.9,753.9 L1448.2,752.8 L1450.5,751.6 L1452.8,750.5 L1455.1,749.3 L1457.4,748.2 L1459.7,747.0 L1462.0,745.8 L1464.3,744.7 L1466.6,743.5 L1469.0,742.3 L1471.3,741.2 L1473.6,740.0 L1475.9,738.8 L1478.2,737.7 L1480.6,736.5 L1482.9,735.3 L1485.2,734.2 L1487.6,733.0 L1489.9,731.8 L1492.2,730.7 L1494.6,729.5 L1496.9,728.3 L1499.3,727.1 L1501.6,726.0 L1504.0,724.8 L1506.3,723.6 L1508.7,722.4 L1511.0,721.3 L1513.4,720.1 L1515.8,718.9 L1518.1,717.7 L1520.5,716.5 L1522.9,715.4 L1525.2,714.2 L1527.6,713.0 L1530.0,711.8 L1532.4,710.6 L1534.8,709.4 L1537.2,708.2 L1539.5,707.1 L1541.9,705.9 L1544.3,704.7 L1546.7,703.5 L1549.1,702.3 L1551.5,701.1 L1553.9,699.9 L1556.3,698.7 L1558.8,697.5 L1561.2,696.3 L1563.6,695.1 L1566.0,693.9 L1568.4,692.7 L1570.8,691.5 L1573.3,690.3 L1575.7,689.1 L1578.1,687.9 L1580.6,686.7 L1583.0,685.5 L1585.4,684.3 L1587.9,683.1 L1590.3,681.9 L1592.8,680.7 L1595.2,679.5 L1597.7,678.3 L1600.1,677.0 L1602.6,675.8 L1605.0,674.6 L1607.5,673.4 L1610.0,672.2 L1612.4,671.0 L1614.9,669.7 L1617.4,668.5 L1619.8,667.3 L1622.3,666.1 L1624.8,664.9 L1627.3,663.6 L1629.8,662.4 L1632.2,661.2 L1634.7,660.0 L1637.2,658.7 L1639.7,657.5 L1642.2,656.3 L1644.7,655.0 L1647.2,653.8 L1649.7,652.6 L1652.2,651.3 L1654.7,650.1 L1657.2,648.9 L1659.8,647.6 L1662.3,646.4 L1664.8,645.1 L1667.3,643.9 L1669.8,642.7 L1672.4,641.4 L1674.9,640.2 L1677.4,638.9 L1680.0,637.7 L1682.5,636.4 L1685.0,635.2 L1687.6,633.9 L1690.1,632.7 L1692.7,631.4 L1695.2,630.2 L1697.8,628.9 L1700.3,627.7 L1702.9,626.4 L1705.5,625.1 L1708.0,623.9 L1710.6,622.6 L1713.1,621.3 L1715.7,620.1 L1718.3,618.8 L1720.9,617.6 L1723.4,616.3 L1726.0,615.0 L1728.6,613.7 L1731.2,612.5 L1733.8,611.2 L1736.4,609.9 L1739.0,608.6 L1741.6,607.4 L1744.2,606.1 L1746.8,604.8 L1749.4,603.5 L1752.0,602.2 L1754.6,601.0 L1757.2,599.7 L1759.8,598.4 L1762.4,597.1 L1765.0,595.8 L1767.7,594.5 L1770.3,593.2 L1772.9,591.9 L1775.5,590.6 L1778.2,589.3 L1780.8,588.0 L1783.4,586.7 L1786.1,585.4 L1788.7,584.1 L1791.4,582.8 L1794.0,581.5 L1796.7,580.2 L1799.3,578.9 L1802.0,577.6 L1804.6,576.3 L1807.3,575.0 L1809.9,573.7 L1812.6,572.3 L1815.3,571.0 L1817.9,569.7 L1820.6,568.4 L1823.3,567.1 L1826.0,565.7 L1828.6,564.4 L1831.3,563.1 L1834.0,561.8 L1836.7,560.4 L1839.4,559.1 L1842.1,557.8 L1844.8,556.4 L1847.5,555.1 L1850.2,553.8 L1852.9,552.4 L1855.6,551.1 L1858.3,549.7 L1861.0,548.4 L1863.7,547.0 L1866.4,545.7 L1869.1,544.3 L1871.9,543.0 L1874.6,541.6 L1877.3,540.3 L1880.0,538.9 L1882.8,537.6 L1885.5,536.2 L1888.2,534.8 L1891.0,533.5 L1893.7,532.1 L1896.4,530.7 L1899.2,529.4 L1901.9,528.0 L1904.7,526.6 L1907.4,525.3 L1910.2,523.9 L1913.0,522.5 L1915.7,521.1 L1918.5,519.7 L1921.2,518.4 L1924.0,517.0 L1926.8,515.6 L1929.6,514.2 L1932.3,512.8 L1935.1,511.4 L1937.9,510.0 L1940.7,508.6 L1943.5,507.2 L1946.3,505.8 L1949.0,504.4 L1951.8,503.0 L1954.6,501.6 L1957.4,500.2 L1960.2,498.8 L1963.0,497.4 L1965.8,496.0 L1968.7,494.6 L1971.5,493.1 L1974.3,491.7" fill="none" stroke="#0000ff" stroke-width="13.1" stroke-linejoin="round"/>
<path d="M414.1,1421.0 L414.1,1421.0 L414.1,1421.0 L414.1,1421.0 L414.2,1421.0 L414.2,1421.0 L414.2,1421.0 L414.3,1421.0 L414.3,1421.0 L414.4,1421.0 L414.4,1421.0 L414.5,1421.0 L414.6,1421.0 L414.6,1421.0 L414.7,1421.0 L414.8,1421.0 L414.9,1421.0 L415.0,1421.0 L415.1,1421.0 L415.3,1421.0 L415.4,1421.0 L415.5,1421.0 L415.6,1421.0 L415.8,1421.0 L415.9,1421.0 L416.1,1421.0 L416.3,1421.0 L416.4,1421.0 L416.6,1421.0 L416.8,1421.0 L417.0,1421.0 L417.2,1421.0 L417.4,1421.0 L417.6,1421.0 L417.8,1421.0 L418.0,1421.0 L418.2,1421.0 L418.5,1421.0 L418.7,1421.0 L419.0,1421.0 L419.2,1421.0 L419.5,1421.0 L419.7,1421.0 L420.0,1421.0 L420.3,1421.0 L420.6,1421.0 L420.8,1421.0 L421.1,1421.0 L421.4,1421.0 L421.8,1421.0 L422.1,1421.0 L422.4,1421.0 L422.7,1421.0 L423.1,1421.0 L423.4,1421.0 L423.7,1421.0 L424.1,1421.0 L424.5,1421.0 L424.8,1421.0 L425.2,1421.0 L425.6,1421.0 L426.0,1421.0 L426.4,1421.0 L426.8,1421.0 L427.2,1421.0 L427.6,1421.0 L428.0,1421.0 L428.4,1421.0 L428.8,1421.0 L429.3,1421.0 L429.7,1421.0 L430.2,1421.0 L430.6,1421.0 L431.1,1421.0 L431.6,1421.0 L432.0,1421.0 L432.5,1421.0 L433.0,1421.0 L433.5,1421.0 L434.0,1421.0 L434.5,1421.0 L435.0,1421.0 L435.5,1421.0 L436.1,1421.0 L436.6,1421.0 L437.1,1421.0 L437.7,1421.0 L438.2,1421.0 L438.8,1421.0 L439.4,1421.0 L439.9,1421.0 L440.5,1421.0 L441.1,1421.0 L441.7,1421.0 L442.3,1421.0 L442.9,1421.0 L443.5,1421.0 L444.1,1421.0 L444.7,1421.0 L445.4,1421.0 L446.0,1421.0 L446.6,1421.0 L447.3,1421.0 L447.9,1421.0 L448.6,1421.0 L449.3,1421.0 L449.9,1421.0 L450.6,1421.0 L451.3,1421.0 L452.0,1421.0 L452.7,1420.9 L453.4,1420.9 L454.1,1420.9 L454.8,1420.9 L455.5,1420.9 L456.3,1420.9 L457.0,1420.9 L457.8,1420.9 L458.5,1420.9 L459.3,1420.9 L460.0,1420.8 L460.8,1420.8 L461.6,1420.8 L462.4,1420.8 L463.1,1420.8 L463.9,1420.7 L464.7,1420.7 L465.5,1420.7 L466.4,1420.7 L467.2,1420.6 L468.0,1420.6 L468.8,1420.6 L469.7,1420.5 L470.5,1420.5 L471.4,1420.5 L472.2,1420.4 L473.1,1420.4 L474.0,1420.3 L474.8,1420.3 L475.7,1420.2 L476.6,1420.2 L477.5,1420.1 L478.4,1420.0 L479.3,1420.0 L480.2,1419.9 L481.2,1419.8 L482.1,1419.8 L483.0,1419.7 L484.0,1419.6 L484.9,1419.5 L485.9,1419.4 L486.8,1419.4 L487.8,1419.3 L488.8,1419.2 L489.7,1419.1 L490.7,1419.0 L491.7,1418.9 L492.7,1418.7 L493.7,1418.6 L494.7,1418.5 L495.7,1418.4 L496.8,1418.2 L497.8,1418.1 L498.8,1418.0 L499.9,1417.8 L500.9,1417.7 L502.0,1417.5 L503.0,1417.4 L504.1,1417.2 L505.2,1417.1 L506.3,1416.9 L507.4,1416.7 L508.5,1416.5 L509.6,1416.4 L510.7,1416.2 L511.8,1416.0 L512.9,1415.8 L514.0,1415.6 L515.1,1415.4 L516.3,1415.1 L517.4,1414.9 L518.6,1414.7 L519.7,1414.5 L520.9,1414.2 L522.1,1414.0 L523.3,1413.8 L524.4,1413.5 L525.6,1413.3 L526.8,1413.0 L528.0,1412.7 L529.2,1412.5 L530.4,1412.2 L531.7,1411.9 L532.9,1411.6 L534.1,1411.3 L535.4,1411.0 L536.6,1410.7 L537.9,1410.4 L539.1,1410.1 L540.4,1409.8 L541.7,1409.4 L543.0,1409.1 L544.2,1408.8 L545.5,1408.4 L546.8,1408.1 L548.1,1407.7 L549.4,1407.4 L550.8,1407.0 L552.1,1406.6 L553.4,1406.2 L554.7,1405.9 L556.1,1405.5 L557.4,1405.1 L558.8,1404.7 L560.2,1404.3 L561.5,1403.9 L562.9,1403.4 L564.3,1403.0 L565.7,1402.6 L567.1,1402.2 L568.5,1401.7 L569.9,1401.3 L571.3,1400.8 L572.7,1400.4 L574.1,1399.9 L575.6,1399.4 L577.0,1399.0 L578.4,1398.5 L579.9,1398.0 L581.4,1397.5 L582.8,1397.0 L584.3,1396.5 L585.8,1396.0 L587.2,1395.5 L588.7,1395.0 L590.2,1394.4 L591.7,1393.9 L593.2,1393.4 L594.8,1392.8 L596.3,1392.3 L597.8,1391.7 L599.3,1391.2 L600.9,1390.6 L602.4,1390.1 L604.0,1389.5 L605.5,1388.9 L607.1,1388.3 L608.7,1387.7 L610.3,1387.1 L611.8,1386.5 L613.4,1385.9 L615.0,1385.3 L616.6,1384.7 L618.2,1384.1 L619.9,1383.5 L621.5,1382.8 L623.1,1382.2 L624.8,1381.5 L626.4,1380.9 L628.0,1380.2 L629.7,1379.6 L631.4,1378.9 L633.0,1378.3 L634.7,1377.6 L636.4,1376.9 L638.1,1376.2 L639.8,1375.5 L641.5,1374.8 L643.2,1374.1 L644.9,1373.4 L646.6,1372.7" fill="none" stroke="#0000ff" stroke-width="13.1" stroke-linejoin="round"/>
<path d="M1026.9,1195.9 L1028.4,1195.2 L1029.9,1194.5 L1031.4,1193.8 L1032.9,1193.0 L1034.4,1192.3 L1035.9,1191.6 L1037.4,1190.9 L1038.9,1190.2 L1040.4,1189.5 L1041.9,1188.8 L1043.4,1188.0 L1044.9,1187.3 L1046.5,1186.6 L1048.0,1185.9 L1049.5,1185.2 L1051.0,1184.4 L1052.5,1183.7 L1054.1,1183.0 L1055.6,1182.3 L1057.1,1181.6 L1058.6,1180.8 L1060.2,1180.1 L1061.7,1179.4 L1063.3,1178.7 L1064.8,1177.9 L1066.3,1177.2 L1067.9,1176.5 L1069.4,1175.7 L1071.0,1175.0 L1072.5,1174.3 L1074.1,1173.5 L1075.6,1172.8 L1077.2,1172.1 L1078.7,1171.3 L1080.3,1170.6 L1081.8,1169.9 L1083.4,1169.1 L1084.9,1168.4 L1086.5,1167.7 L1088.1,1166.9 L1089.6,1166.2 L1091.2,1165.4 L1092.8,1164.7 L1094.3,1164.0 L1095.9,1163.2 L1097.5,1162.5 L1099.1,1161.7 L1100.6,1161.0 L1102.2,1160.2 L1103.8,1159.5 L1105.4,1158.7 L1107.0,1158.0 L1108.6,1157.2 L1110.2,1156.5 L1111.8,1155.7 L1113.3,1155.0 L1114.9,1154.2 L1116.5,1153.5 L1118.1,1152.7 L1119.7,1152.0 L1121.3,1151.2 L1122.9,1150.5 L1124.6,1149.7 L1126.2,1148.9 L1127.8,1148.2 L1129.4,1147.4 L1131.0,1146.7 L1132.6,1145.9 L1134.2,1145.1 L1135.9,1144.4 L1137.5,1143.6 L1139.1,1142.8 L1140.7,1142.1 L1142.3,1141.3 L1144.0,1140.6 L1145.6,1139.8 L1147.2,1139.0 L1148.9,1138.2 L1150.5,1137.5 L1152.1,1136.7 L1153.8,1135.9 L1155.4,1135.2 L1157.1,1134.4 L1158.7,1133.6 L1160.4,1132.8 L1162.0,1132.1 L1163.7,1131.3 L1165.3,1130.5 L1167.0,1129.7 L1168.6,1129.0 L1170.3,1128.2 L1171.9,1127.4 L1173.6,1126.6 L1175.3,1125.8 L1176.9,1125.1 L1178.6,1124.3 L1180.3,1123.5 L1181.9,1122.7 L1183.6,1121.9 L1185.3,1121.1 L1186.9,1120.4 L1188.6,1119.6 L1190.3,1118.8 L1192.0,1118.0 L1193.7,1117.2 L1195.4,1116.4 L1197.0,1115.6 L1198.7,1114.8 L1200.4,1114.0 L1202.1,1113.2 L1203.8,1112.4 L1205.5,1111.7 L1207.2,1110.9 L1208.9,1110.1 L1210.6,1109.3 L1212.3,1108.5 L1214.0,1107.7 L1215.7,1106.9 L1217.4,1106.1 L1219.1,1105.3 L1220.8,1104.5 L1222.6,1103.7 L1224.3,1102.9 L1226.0,1102.0 L1227.7,1101.2 L1229.4,1100.4 L1231.2,1099.6 L1232.9,1098.8 L1234.6,1098.0 L1236.3,1097.2 L1238.1,1096.4 L1239.8,1095.6 L1241.5,1094.8 L1243.3,1094.0 L1245.0,1093.1 L1246.7,1092.3 L1248.5,1091.5 L1250.2,1090.7 L1252.0,1089.9 L1253.7,1089.1 L1255.5,1088.2 L1257.2,1087.4 L1259.0,1086.6 L1260.7,1085.8 L1262.5,1085.0 L1264.2,1084.1 L1266.0,1083.3 L1267.7,1082.5 L1269.5,1081.7 L1271.3,1080.9 L1273.0,1080.0 L1274.8,1079.2 L1276.6,1078.4 L1278.4,1077.5 L1280.1,1076.7 L1281.9,1075.9 L1283.7,1075.1 L1285.5,1074.2 L1287.2,1073.4 L1289.0,1072.6 L1290.8,1071.7 L1292.6,1070.9 L1294.4,1070.1 L1296.2,1069.2 L1298.0,1068.4 L1299.8,1067.5 L1301.6,1066.7 L1303.4,1065.9 L1305.2,1065.0 L1307.0,1064.2 L1308.8,1063.3 L1310.6,1062.5 L1312.4,1061.7 L1314.2,1060.8 L1316.0,1060.0 L1317.8,1059.1 L1319.6,1058.3 L1321.4,1057.4 L1323.2,1056.6 L1325.1,1055.7 L1326.9,1054.9 L1328.7,1054.0 L1330.5,1053.2 L1332.4,1052.3 L1334.2,1051.5 L1336.0,1050.6 L1337.8,1049.8 L1339.7,1048.9 L1341.5,1048.0 L1343.4,1047.2 L1345.2,1046.3 L1347.0,1045.5 L1348.9,1044.6 L1350.7,1043.7 L1352.6,1042.9 L1354.4,1042.0 L1356.3,1041.2 L1358.1,1040.3 L1360.0,1039.4 L1361.8,1038.6 L1363.7,1037.7 L1365.5,1036.8 L1367.4,1036.0 L1369.3,1035.1 L1371.1,1034.2 L1373.0,1033.3 L1374.9,1032.5 L1376.7,1031.6 L1378.6,1030.7 L1380.5,1029.8 L1382.4,1029.0 L1384.2,1028.1 L1386.1,1027.2 L1388.0,1026.3 L1389.9,1025.5 L1391.8,1024.6 L1393.7,1023.7 L1395.5,1022.8 L1397.4,1021.9 L1399.3,1021.0 L1401.2,1020.2 L1403.1,1019.3 L1405.0,1018.4 L1406.9,1017.5 L1408.8,1016.6 L1410.7,1015.7 L1412.6,1014.8 L1414.5,1013.9 L1416.4,1013.1 L1418.3,1012.2 L1420.3,1011.3 L1422.2,1010.4 L1424.1,1009.5 L1426.0,1008.6 L1427.9,1007.7 L1429.8,1006.8 L1431.8,1005.9 L1433.7,1005.0 L1435.6,1004.1 L1437.5,1003.2 L1439.5,1002.3 L1441.4,1001.4 L1443.3,1000.5 L1445.3,999.6 L1447.2,998.7 L1449.1,997.8 L1451.1,996.9 L1453.0,995.9 L1455.0,995.0 L1456.9,994.1 L1458.9,993.2 L1460.8,992.3 L1462.8,991.4 L1464.7,990.5 L1466.7,989.6 L1468.6,988.6 L1470.6,987.7 L1472.6,986.8 L1474.5,985.9 L1476.5,985.0 L1478.5,984.1 L1480.4,983.1 L1482.4,982.2 L1484.4,981.3 L1486.3,980.4 L1488.3,979.4 L1490.3,978.5 L1492.3,977.6 L1494.3,976.7 L1496.2,975.7 L1498.2,974.8 L1500.2,973.9 L1502.2,972.9 L1504.2,972.0 L1506.2,971.1 L1508.2,970.1 L1510.2,969.2 L1512.2,968.3 L1514.2,967.3 L1516.2,966.4 L1518.2,965.4 L1520.2,964.5 L1522.2,963.6 L1524.2,962.6 L1526.2,961.7 L1528.2,960.7 L1530.2,959.8 L1532.2,958.8 L1534.3,957.9 L1536.3,956.9 L1538.3,956.0 L1540.3,955.0 L1542.3,954.1 L1544.4,953.1 L1546.4,952.2 L1548.4,951.2 L1550.5,950.3 L1552.5,949.3 L1554.5,948.4 L1556.6,947.4 L1558.6,946.4 L1560.6,945.5 L1562.7,944.5 L1564.7,943.6 L1566.8,942.6 L1568.8,941.6 L1570.9,940.7 L1572.9,939.7 L1575.0,938.7 L1577.0,937.8 L1579.1,936.8 L1581.2,935.8 L1583.2,934.8 L1585.3,933.9 L1587.3,932.9 L1589.4,931.9 L1591.5,930.9 L1593.5,930.0 L1595.6,929.0 L1597.7,928.0 L1599.8,927.0 L1601.8,926.0 L1603.9,925.1 L1606.0,924.1 L1608.1,923.1 L1610.2,922.1 L1612.3,921.1 L1614.4,920.1 L1616.4,919.1 L1618.5,918.2 L1620.6,917.2 L1622.7,916.2 L1624.8,915.2 L1626.9,914.2 L1629.0,913.2 L1631.1,912.2 L1633.2,911.2 L1635.3,910.2 L1637.4,909.2 L1639.6,908.2 L1641.7,907.2 L1643.8,906.2 L1645.9,905.2 L1648.0,904.2 L1650.1,903.2 L1652.3,902.2 L1654.4,901.2 L1656.5,900.1 L1658.6,899.1 L1660.8,898.1 L1662.9,897.1 L1665.0,896.1 L1667.1,895.1 L1669.3,894.1 L1671.4,893.0 L1673.6,892.0 L1675.7,891.0 L1677.8,890.0 L1680.0,889.0 L1682.1,887.9 L1684.3,886.9 L1686.4,885.9 L1688.6,884.8 L1690.7,883.8 L1692.9,882.8 L1695.1,881.8 L1697.2,880.7 L1699.4,879.7 L1701.5,878.7 L1703.7,877.6 L1705.9,876.6 L1708.0,875.5 L1710.2,874.5 L1712.4,873.5 L1714.6,872.4 L1716.7,871.4 L1718.9,870.3 L1721.1,869.3 L1723.3,868.2 L1725.4,867.2 L1727.6,866.1 L1729.8,865.1 L1732.0,864.0 L1734.2,863.0 L1736.4,861.9 L1738.6,860.9 L1740.8,859.8 L1743.0,858.8 L1745.2,857.7 L1747.4,856.6 L1749.6,855.6 L1751.8,854.5 L1754.0,853.5 L1756.2,852.4 L1758.4,851.3 L1760.6,850.3 L1762.8,849.2 L1765.1,848.1 L1767.3,847.0 L1769.5,846.0 L1771.7,844.9 L1773.9,843.8 L1776.2,842.7 L1778.4,841.7 L1780.6,840.6 L1782.8,839.5 L1785.1,838.4 L1787.3,837.3 L1789.5,836.2 L1791.8,835.2 L1794.0,834.1 L1796.3,833.0 L1798.5,831.9 L1800.7,830.8 L1803.0,829.7 L1805.2,828.6 L1807.5,827.5 L1809.7,826.4 L1812.0,825.3 L1814.3,824.2 L1816.5,823.1 L1818.8,822.0 L1821.0,820.9 L1823.3,819.8 L1825.6,818.7 L1827.8,817.6 L1830.1,816.5 L1832.4,815.4 L1834.6,814.2 L1836.9,813.1 L1839.2,812.0 L1841.5,810.9 L1843.7,809.8 L1846.0,808.7 L1848.3,807.5 L1850.6,806.4 L1852.9,805.3 L1855.2,804.2 L1857.5,803.0 L1859.7,801.9 L1862.0,800.8 L1864.3,799.6 L1866.6,798.5 L1868.9,797.4 L1871.2,796.2 L1873.5,795.1 L1875.8,794.0 L1878.1,792.8 L1880.5,791.7 L1882.8,790.5 L1885.1,789.4 L1887.4,788.2 L1889.7,787.1 L1892.0,785.9 L1894.3,784.8 L1896.7,783.6 L1899.0,782.5 L1901.3,781.3 L1903.6,780.2 L1906.0,779.0 L1908.3,777.8 L1910.6,776.7 L1913.0,775.5 L1915.3,774.4 L1917.6,773.2 L1920.0,772.0 L1922.3,770.8 L1924.7,769.7 L1927.0,768.5 L1929.4,767.3 L1931.7,766.2 L1934.0,765.0 L1936.4,763.8 L1938.8,762.6 L1941.1,761.4 L1943.5,760.2 L1945.8,759.1 L1948.2,757.9 L1950.6,756.7 L1952.9,755.5 L1955.3,754.3 L1957.7,753.1 L1960.0,751.9 L1962.4,750.7 L1964.8,749.5 L1967.1,748.3 L1969.5,747.1 L1971.9,745.9 L1974.3,744.7" fill="none" stroke="#0000ff" stroke-width="13.1" stroke-linejoin="round"/>
<path d="M414.1,1421.0 L414.1,1421.0 L414.1,1421.0 L414.1,1421.0 L414.2,1421.0 L414.2,1421.0 L414.2,1421.0 L414.3,1421.0 L414.4,1421.0 L414.4,1421.0 L414.5,1421.0 L414.6,1421.0 L414.7,1421.0 L414.8,1421.0 L414.9,1421.0 L415.0,1421.0 L415.1,1421.0 L415.2,1421.0 L415.4,1421.0 L415.5,1421.0 L415.7,1421.0 L415.8,1421.0 L416.0,1421.0 L416.2,1421.0 L416.4,1421.0 L416.6,1421.0 L416.8,1421.0 L417.0,1421.0 L417.2,1421.0 L417.4,1421.0 L417.6,1421.0 L417.9,1421.0 L418.1,1421.0 L418.4,1421.0 L418.7,1421.0 L418.9,1421.0 L419.2,1421.0 L419.5,1421.0 L419.8,1421.0 L420.1,1421.0 L420.4,1421.0 L420.7,1421.0 L421.1,1421.0 L421.4,1421.0 L421.7,1421.0 L422.1,1421.0 L422.4,1421.0 L422.8,1421.0 L423.2,1421.0 L423.6,1421.0 L424.0,1421.0 L424.4,1421.0 L424.8,1421.0 L425.2,1421.0 L425.6,1421.0 L426.0,1421.0 L426.5,1421.0 L426.9,1421.0 L427.4,1421.0 L427.8,1421.0 L428.3,1421.0 L428.8,1421.0 L429.3,1421.0 L429.7,1421.0 L430.2,1421.0 L430.8,1421.0 L431.3,1421.0 L431.8,1421.0 L432.3,1421.0 L432.9,1421.0 L433.4,1421.0 L434.0,1421.0 L434.5,1421.0 L435.1,1421.0 L435.7,1421.0 L436.3,1421.0 L436.9,1421.0 L437.5,1421.0 L438.1,1421.0 L438.7,1421.0 L439.3,1421.0 L440.0,1421.0 L440.6,1421.0 L441.3,1421.0 L441.9,1421.0 L442.6,1421.0 L443.2,1421.0 L443.9,1421.0 L444.6,1421.0 L445.3,1421.0 L446.0,1421.0 L446.7,1421.0 L447.5,1421.0 L448.2,1421.0 L448.9,1421.0 L449.7,1421.0 L450.4,1421.0 L451.2,1421.0 L452.0,1421.0 L452.7,1421.0 L453.5,1421.0 L454.3,1421.0 L455.1,1421.0 L455.9,1421.0 L456.7,1421.0 L457.6,1421.0 L458.4,1421.0 L459.2,1421.0 L460.1,1421.0 L460.9,1421.0 L461.8,1421.0 L462.7,1421.0 L463.5,1421.0 L464.4,1421.0 L465.3,1421.0 L466.2,1421.0 L467.1,1421.0 L468.1,1421.0 L469.0,1421.0 L469.9,1421.0 L470.9,1421.0 L471.8,1421.0 L472.8,1421.0 L473.7,1421.0 L474.7,1421.0 L475.7,1421.0 L476.7,1421.0 L477.7,1421.0 L478.7,1421.0 L479.7,1421.0 L480.7,1421.0 L481.7,1421.0 L482.8,1421.0 L483.8,1421.0 L484.9,1421.0 L485.9,1421.0 L487.0,1421.0 L488.1,1421.0 L489.2,1421.0 L490.2,1421.0 L491.3,1421.0 L492.5,1421.0 L493.6,1421.0 L494.7,1421.0 L495.8,1420.9 L497.0,1420.9 L498.1,1420.9 L499.3,1420.9 L500.4,1420.9 L501.6,1420.9 L502.8,1420.9 L504.0,1420.9 L505.2,1420.9 L506.4,1420.9 L507.6,1420.9 L508.8,1420.9 L510.0,1420.8 L511.2,1420.8 L512.5,1420.8 L513.7,1420.8 L515.0,1420.8 L516.3,1420.8 L517.5,1420.7 L518.8,1420.7 L520.1,1420.7 L521.4,1420.7 L522.7,1420.7 L524.0,1420.6 L525.3,1420.6 L526.7,1420.6 L528.0,1420.6 L529.3,1420.5 L530.7,1420.5 L532.1,1420.5 L533.4,1420.4 L534.8,1420.4 L536.2,1420.4 L537.6,1420.3 L539.0,1420.3 L540.4,1420.2 L541.8,1420.2 L543.2,1420.1 L544.6,1420.1 L546.1,1420.0 L547.5,1420.0 L549.0,1419.9 L550.5,1419.9 L551.9,1419.8 L553.4,1419.7 L554.9,1419.7 L556.4,1419.6 L557.9,1419.5 L559.4,1419.5 L560.9,1419.4 L562.4,1419.3 L564.0,1419.2 L565.5,1419.2 L567.1,1419.1 L568.6,1419.0 L570.2,1418.9 L571.7,1418.8 L573.3,1418.7 L574.9,1418.6 L576.5,1418.5 L578.1,1418.4 L579.7,1418.3 L581.4,1418.2 L583.0,1418.0 L584.6,1417.9 L586.3,1417.8 L587.9,1417.7 L589.6,1417.5 L591.2,1417.4 L592.9,1417.3 L594.6,1417.1 L596.3,1417.0 L598.0,1416.8 L599.7,1416.7 L601.4,1416.5 L603.1,1416.4 L604.9,1416.2 L606.6,1416.0 L608.3,1415.9 L610.1,1415.7 L611.9,1415.5 L613.6,1415.3 L615.4,1415.1 L617.2,1414.9 L619.0,1414.7 L620.8,1414.5 L622.6,1414.3 L624.4,1414.1 L626.2,1413.9 L628.1,1413.7 L629.9,1413.5 L631.8,1413.2 L633.6,1413.0 L635.5,1412.8 L637.3,1412.5 L639.2,1412.3 L641.1,1412.0 L643.0,1411.8 L644.9,1411.5 L646.8,1411.3 L648.7,1411.0 L650.7,1410.7 L652.6,1410.4 L654.6,1410.2 L656.5,1409.9 L658.5,1409.6 L660.4,1409.3 L662.4,1409.0 L664.4,1408.7 L666.4,1408.4 L668.4,1408.0 L670.4,1407.7 L672.4,1407.4 L674.4,1407.1 L676.4,1406.7 L678.5,1406.4 L680.5,1406.0 L682.6,1405.7 L684.6,1405.3 L686.7,1405.0 L688.8,1404.6 L690.9,1404.2 L693.0,1403.8 L695.1,1403.5 L697.2,1403.1 L699.3,1402.7 L701.4,1402.3 L703.5,1401.9 L705.7,1401.5 L707.8,1401.1 L710.0,1400.6 L712.2,1400.2 L714.3,1399.8 L716.5,1399.3 L718.7,1398.9 L720.9,1398.5 L723.1,1398.0 L725.3,1397.5 L727.5,1397.1 L729.7,1396.6 L732.0,1396.1 L734.2,1395.7 L736.5,1395.2 L738.7,1394.7 L741.0,1394.2 L743.3,1393.7 L745.6,1393.2 L747.8,1392.7 L750.1,1392.1 L752.5,1391.6 L754.8,1391.1 L757.1,1390.6 L759.4,1390.0 L761.8,1389.5 L764.1,1388.9 L766.4,1388.4 L768.8,1387.8 L771.2,1387.2 L773.6,1386.7 L775.9,1386.1 L778.3,1385.5 L780.7,1384.9 L783.1,1384.3 L785.6,1383.7 L788.0,1383.1 L790.4,1382.5 L792.9,1381.9 L795.3,1381.3 L797.8,1380.6 L800.2,1380.0 L802.7,1379.4 L805.2,1378.7 L807.7,1378.1 L810.2,1377.4 L812.7,1376.7 L815.2,1376.1 L817.7,1375.4 L820.2,1374.7 L822.7,1374.0 L825.3,1373.3 L827.8,1372.7 L830.4,1371.9 L833.0,1371.2 L835.5,1370.5 L838.1,1369.8 L840.7,1369.1 L843.3,1368.4" fill="none" stroke="#0000ff" stroke-width="13.1" stroke-linejoin="round"/>
<path d="M1227.4,1235.2 L1228.9,1234.6 L1230.3,1234.0 L1231.8,1233.4 L1233.3,1232.9 L1234.7,1232.3 L1236.2,1231.7 L1237.7,1231.1 L1239.1,1230.6 L1240.6,1230.0 L1242.1,1229.4 L1243.6,1228.8 L1245.1,1228.2 L1246.5,1227.6 L1248.0,1227.0 L1249.5,1226.5 L1251.0,1225.9 L1252.5,1225.3 L1254.0,1224.7 L1255.4,1224.1 L1256.9,1223.5 L1258.4,1222.9 L1259.9,1222.3 L1261.4,1221.7 L1262.9,1221.1 L1264.4,1220.5 L1265.9,1219.9 L1267.4,1219.3 L1268.9,1218.7 L1270.4,1218.1 L1271.9,1217.5 L1273.4,1216.9 L1274.9,1216.3 L1276.4,1215.7 L1277.9,1215.1 L1279.4,1214.5 L1280.9,1213.9 L1282.4,1213.3 L1284.0,1212.7 L1285.5,1212.1 L1287.0,1211.5 L1288.5,1210.9 L1290.0,1210.3 L1291.5,1209.6 L1293.1,1209.0 L1294.6,1208.4 L1296.1,1207.8 L1297.6,1207.2 L1299.2,1206.6 L1300.7,1205.9 L1302.2,1205.3 L1303.7,1204.7 L1305.3,1204.1 L1306.8,1203.5 L1308.3,1202.8 L1309.9,1202.2 L1311.4,1201.6 L1312.9,1201.0 L1314.5,1200.3 L1316.0,1199.7 L1317.6,1199.1 L1319.1,1198.5 L1320.7,1197.8 L1322.2,1197.2 L1323.7,1196.6 L1325.3,1195.9 L1326.8,1195.3 L1328.4,1194.7 L1329.9,1194.0 L1331.5,1193.4 L1333.1,1192.8 L1334.6,1192.1 L1336.2,1191.5 L1337.7,1190.8 L1339.3,1190.2 L1340.9,1189.6 L1342.4,1188.9 L1344.0,1188.3 L1345.5,1187.6 L1347.1,1187.0 L1348.7,1186.3 L1350.2,1185.7 L1351.8,1185.0 L1353.4,1184.4 L1355.0,1183.7 L1356.5,1183.1 L1358.1,1182.4 L1359.7,1181.8 L1361.3,1181.1 L1362.8,1180.5 L1364.4,1179.8 L1366.0,1179.2 L1367.6,1178.5 L1369.2,1177.8 L1370.8,1177.2 L1372.4,1176.5 L1373.9,1175.9 L1375.5,1175.2 L1377.1,1174.5 L1378.7,1173.9 L1380.3,1173.2 L1381.9,1172.5 L1383.5,1171.9 L1385.1,1171.2 L1386.7,1170.5 L1388.3,1169.9 L1389.9,1169.2 L1391.5,1168.5 L1393.1,1167.9 L1394.7,1167.2 L1396.3,1166.5 L1397.9,1165.8 L1399.5,1165.2 L1401.2,1164.5 L1402.8,1163.8 L1404.4,1163.1 L1406.0,1162.4 L1407.6,1161.8 L1409.2,1161.1 L1410.9,1160.4 L1412.5,1159.7 L1414.1,1159.0 L1415.7,1158.4 L1417.3,1157.7 L1419.0,1157.0 L1420.6,1156.3 L1422.2,1155.6 L1423.9,1154.9 L1425.5,1154.2 L1427.1,1153.5 L1428.8,1152.8 L1430.4,1152.1 L1432.0,1151.4 L1433.7,1150.8 L1435.3,1150.1 L1436.9,1149.4 L1438.6,1148.7 L1440.2,1148.0 L1441.9,1147.3 L1443.5,1146.6 L1445.2,1145.9 L1446.8,1145.2 L1448.5,1144.4 L1450.1,1143.7 L1451.8,1143.0 L1453.4,1142.3 L1455.1,1141.6 L1456.7,1140.9 L1458.4,1140.2 L1460.0,1139.5 L1461.7,1138.8 L1463.4,1138.1 L1465.0,1137.4 L1466.7,1136.6 L1468.4,1135.9 L1470.0,1135.2 L1471.7,1134.5 L1473.4,1133.8 L1475.0,1133.1 L1476.7,1132.3 L1478.4,1131.6 L1480.1,1130.9 L1481.7,1130.2 L1483.4,1129.4 L1485.1,1128.7 L1486.8,1128.0 L1488.5,1127.3 L1490.1,1126.5 L1491.8,1125.8 L1493.5,1125.1 L1495.2,1124.3 L1496.9,1123.6 L1498.6,1122.9 L1500.3,1122.1 L1501.9,1121.4 L1503.6,1120.7 L1505.3,1119.9 L1507.0,1119.2 L1508.7,1118.5 L1510.4,1117.7 L1512.1,1117.0 L1513.8,1116.2 L1515.5,1115.5 L1517.2,1114.8 L1518.9,1114.0 L1520.6,1113.3 L1522.4,1112.5 L1524.1,1111.8 L1525.8,1111.0 L1527.5,1110.3 L1529.2,1109.5 L1530.9,1108.8 L1532.6,1108.0 L1534.3,1107.3 L1536.1,1106.5 L1537.8,1105.8 L1539.5,1105.0 L1541.2,1104.2 L1542.9,1103.5 L1544.7,1102.7 L1546.4,1102.0 L1548.1,1101.2 L1549.9,1100.4 L1551.6,1099.7 L1553.3,1098.9 L1555.0,1098.2 L1556.8,1097.4 L1558.5,1096.6 L1560.2,1095.8 L1562.0,1095.1 L1563.7,1094.3 L1565.5,1093.5 L1567.2,1092.8 L1569.0,1092.0 L1570.7,1091.2 L1572.4,1090.4 L1574.2,1089.7 L1575.9,1088.9 L1577.7,1088.1 L1579.4,1087.3 L1581.2,1086.6 L1582.9,1085.8 L1584.7,1085.0 L1586.5,1084.2 L1588.2,1083.4 L1590.0,1082.6 L1591.7,1081.8 L1593.5,1081.1 L1595.3,1080.3 L1597.0,1079.5 L1598.8,1078.7 L1600.6,1077.9 L1602.3,1077.1 L1604.1,1076.3 L1605.9,1075.5 L1607.6,1074.7 L1609.4,1073.9 L1611.2,1073.1 L1613.0,1072.3 L1614.7,1071.5 L1616.5,1070.7 L1618.3,1069.9 L1620.1,1069.1 L1621.9,1068.3 L1623.6,1067.5 L1625.4,1066.7 L1627.2,1065.9 L1629.0,1065.1 L1630.8,1064.3 L1632.6,1063.5 L1634.4,1062.7 L1636.2,1061.9 L1638.0,1061.0 L1639.8,1060.2 L1641.6,1059.4 L1643.3,1058.6 L1645.1,1057.8 L1646.9,1057.0 L1648.8,1056.1 L1650.6,1055.3 L1652.4,1054.5 L1654.2,1053.7 L1656.0,1052.8 L1657.8,1052.0 L1659.6,1051.2 L1661.4,1050.4 L1663.2,1049.5 L1665.0,1048.7 L1666.8,1047.9 L1668.7,1047.1 L1670.5,1046.2 L1672.3,1045.4 L1674.1,1044.5 L1675.9,1043.7 L1677.8,1042.9 L1679.6,1042.0 L1681.4,1041.2 L1683.2,1040.4 L1685.1,1039.5 L1686.9,1038.7 L1688.7,1037.8 L1690.6,1037.0 L1692.4,1036.1 L1694.2,1035.3 L1696.1,1034.5 L1697.9,1033.6 L1699.8,1032.8 L1701.6,1031.9 L1703.4,1031.0 L1705.3,1030.2 L1707.1,1029.3 L1709.0,1028.5 L1710.8,1027.6 L1712.7,1026.8 L1714.5,1025.9 L1716.4,1025.1 L1718.2,1024.2 L1720.1,1023.3 L1721.9,1022.5 L1723.8,1021.6 L1725.6,1020.7 L1727.5,1019.9 L1729.4,1019.0 L1731.2,1018.1 L1733.1,1017.3 L1734.9,1016.4 L1736.8,1015.5 L1738.7,1014.7 L1740.5,1013.8 L1742.4,1012.9 L1744.3,1012.0 L1746.2,1011.1 L1748.0,1010.3 L1749.9,1009.4 L1751.8,1008.5 L1753.7,1007.6 L1755.5,1006.7 L1757.4,1005.9 L1759.3,1005.0 L1761.2,1004.1 L1763.1,1003.2 L1765.0,1002.3 L1766.8,1001.4 L1768.7,1000.5 L1770.6,999.6 L1772.5,998.7 L1774.4,997.8 L1776.3,996.9 L1778.2,996.1 L1780.1,995.2 L1782.0,994.3 L1783.9,993.4 L1785.8,992.5 L1787.7,991.5 L1789.6,990.6 L1791.5,989.7 L1793.4,988.8 L1795.3,987.9 L1797.2,987.0 L1799.1,986.1 L1801.0,985.2 L1802.9,984.3 L1804.8,983.4 L1806.8,982.5 L1808.7,981.5 L1810.6,980.6 L1812.5,979.7 L1814.4,978.8 L1816.4,977.9 L1818.3,976.9 L1820.2,976.0 L1822.1,975.1 L1824.0,974.2 L1826.0,973.2 L1827.9,972.3 L1829.8,971.4 L1831.8,970.5 L1833.7,969.5 L1835.6,968.6 L1837.6,967.7 L1839.5,966.7 L1841.4,965.8 L1843.4,964.8 L1845.3,963.9 L1847.3,963.0 L1849.2,962.0 L1851.2,961.1 L1853.1,960.1 L1855.0,959.2 L1857.0,958.2 L1858.9,957.3 L1860.9,956.3 L1862.8,955.4 L1864.8,954.4 L1866.8,953.5 L1868.7,952.5 L1870.7,951.6 L1872.6,950.6 L1874.6,949.7 L1876.5,948.7 L1878.5,947.8 L1880.5,946.8 L1882.4,945.8 L1884.4,944.9 L1886.4,943.9 L1888.3,942.9 L1890.3,942.0 L1892.3,941.0 L1894.3,940.0 L1896.2,939.1 L1898.2,938.1 L1900.2,937.1 L1902.2,936.1 L1904.1,935.2 L1906.1,934.2 L1908.1,933.2 L1910.1,932.2 L1912.1,931.2 L1914.1,930.3 L1916.1,929.3 L1918.0,928.3 L1920.0,927.3 L1922.0,926.3 L1924.0,925.3 L1926.0,924.3 L1928.0,923.3 L1930.0,922.3 L1932.0,921.3 L1934.0,920.4 L1936.0,919.4 L1938.0,918.4 L1940.0,917.4 L1942.0,916.4 L1944.0,915.4 L1946.0,914.3 L1948.0,913.3 L1950.1,912.3 L1952.1,911.3 L1954.1,910.3 L1956.1,909.3 L1958.1,908.3 L1960.1,907.3 L1962.1,906.3 L1964.2,905.2 L1966.2,904.2 L1968.2,903.2 L1970.2,902.2 L1972.3,901.2 L1974.3,900.1" fill="none" stroke="#0000ff" stroke-width="13.1" stroke-linejoin="round"/>
<circle cx="609.1" cy="955.1" r="25.2" fill="none" stroke="#000000" stroke-width="7"/>
<circle cx="804.7" cy="835.5" r="25.2" fill="none" stroke="#000000" stroke-width="7"/>
<circle cx="804.7" cy="1040.4" r="25.2" fill="none" stroke="#000000" stroke-width="7"/>
<circle cx="999.6" cy="655.1" r="25.2" fill="none" stroke="#000000" stroke-width="7"/>
<circle cx="999.8" cy="907.1" r="25.2" fill="none" stroke="#000000" stroke-width="7"/>
<circle cx="1195.3" cy="577.6" r="25.2" fill="none" stroke="#000000" stroke-width="7"/>
<circle cx="1195.3" cy="756.5" r="25.2" fill="none" stroke="#000000" stroke-width="7"/>
<circle cx="1195.3" cy="1015.0" r="25.2" fill="none" stroke="#000000" stroke-width="7"/>
<circle cx="1390.9" cy="412.5" r="25.2" fill="none" stroke="#000000" stroke-width="7"/>
<circle cx="1390.9" cy="708.7" r="25.2" fill="none" stroke="#000000" stroke-width="7"/>
<circle cx="1390.9" cy="979.7" r="25.2" fill="none" stroke="#000000" stroke-width="7"/>
<circle cx="1586.1" cy="326.6" r="25.2" fill="none" stroke="#000000" stroke-width="7"/>
<circle cx="1586.1" cy="601.4" r="25.2" fill="none" stroke="#000000" stroke-width="7"/>
<circle cx="1586.1" cy="822.0" r="25.2" fill="none" stroke="#000000" stroke-width="7"/>
<circle cx="1586.1" cy="1053.0" r="25.2" fill="none" stroke="#000000" stroke-width="7"/>
<circle cx="1781.4" cy="211.7" r="25.2" fill="none" stroke="#000000" stroke-width="7"/>
<circle cx="1781.4" cy="517.8" r="25.2" fill="none" stroke="#000000" stroke-width="7"/>
<circle cx="1781.4" cy="735.0" r="25.2" fill="none" stroke="#000000" stroke-width="7"/>
<circle cx="1781.4" cy="965.7" r="25.2" fill="none" stroke="#000000" stroke-width="7"/>
<circle cx="1976.8" cy="193.8" r="25.2" fill="none" stroke="#000000" stroke-width="7"/>
<circle cx="1976.8" cy="373.1" r="25.2" fill="none" stroke="#000000" stroke-width="7"/>
<circle cx="1976.8" cy="583.4" r="25.2" fill="none" stroke="#000000" stroke-width="7"/>
<circle cx="1976.8" cy="904.4" r="25.2" fill="none" stroke="#000000" stroke-width="7"/>
<text x="383" y="1452.9" font-family="'Liberation Serif', 'DejaVu Serif', serif" font-size="88" fill="#1e1e1e" text-anchor="end">0</text>
<text x="383" y="1109.4" font-family="'Liberation Serif', 'DejaVu Serif', serif" font-size="88" fill="#1e1e1e" text-anchor="end">5</text>
<text x="383" y="765.9" font-family="'Liberation Serif', 'DejaVu Serif', serif" font-size="88" fill="#1e1e1e" text-anchor="end">10</text>
<text x="383" y="422.4" font-family="'Liberation Serif', 'DejaVu Serif', serif" font-size="88" fill="#1e1e1e" text-anchor="end">15</text>
<text x="383" y="78.9" font-family="'Liberation Serif', 'DejaVu Serif', serif" font-size="88" fill="#1e1e1e" text-anchor="end">20</text>
<text x="411.8" y="1524.5" font-family="'Liberation Serif', 'DejaVu Serif', serif" font-size="88" fill="#1e1e1e" text-anchor="middle">0</text>
<text x="737.4" y="1524.5" font-family="'Liberation Serif', 'DejaVu Serif', serif" font-size="88" fill="#1e1e1e" text-anchor="middle">1000</text>
<text x="1063.0" y="1524.5" font-family="'Liberation Serif', 'DejaVu Serif', serif" font-size="88" fill="#1e1e1e" text-anchor="middle">2000</text>
<text x="1388.5" y="1524.5" font-family="'Liberation Serif', 'DejaVu Serif', serif" font-size="88" fill="#1e1e1e" text-anchor="middle">3000</text>
<text x="1714.1" y="1524.5" font-family="'Liberation Serif', 'DejaVu Serif', serif" font-size="88" fill="#1e1e1e" text-anchor="middle">4000</text>
<text x="2039.7" y="1524.5" font-family="'Liberation Serif', 'DejaVu Serif', serif" font-size="88" fill="#1e1e1e" text-anchor="middle">5000</text>
<text y="704.7" font-family="'Liberation Serif', 'DejaVu Serif', serif" font-size="98" fill="#1e1e1e"><tspan x="19.3" font-style="italic">y</tspan><tspan x="70 86.7"> (</tspan></text>
<text x="116.6" y="704.7" font-family="'Liberation Serif', 'DejaVu Serif', serif" font-size="98" fill="#1e1e1e" textLength="126" lengthAdjust="spacingAndGlyphs">cm</text>
<text x="243.9" y="704.7" font-family="'Liberation Serif', 'DejaVu Serif', serif" font-size="98" fill="#1e1e1e">)</text>
<text y="1638" font-family="'Liberation Serif', 'DejaVu Serif', serif" font-size="100" fill="#1e1e1e"><tspan x="1145.4" font-style="italic">t</tspan><tspan x="1185 1203.8"> (</tspan></text>
<text x="1233.5" y="1638" font-family="'Liberation Serif', 'DejaVu Serif', serif" font-size="100" fill="#1e1e1e" textLength="36" lengthAdjust="spacingAndGlyphs">s</text>
<text x="1274.8" y="1638" font-family="'Liberation Serif', 'DejaVu Serif', serif" font-size="100" fill="#1e1e1e">)</text>
<text x="0" y="0" font-family="'Liberation Serif', 'DejaVu Serif', serif" font-style="italic" font-size="82.0" letter-spacing="-2.59" fill="#000000" transform="translate(490.47,1196.62) rotate(-58.00)">x = 0</text>
<text x="0" y="0" font-family="'Liberation Serif', 'DejaVu Serif', serif" font-style="italic" font-size="82.0" letter-spacing="-1.36" fill="#000000" transform="translate(504.27,1382.56) rotate(-36.80)">x = 100 cm</text>
<text x="0" y="0" font-family="'Liberation Serif', 'DejaVu Serif', serif" font-style="italic" font-size="82.0" letter-spacing="-1.43" fill="#000000" transform="translate(647.95,1373.38) rotate(-24.70)">x = 200 cm</text>
<text x="0" y="0" font-family="'Liberation Serif', 'DejaVu Serif', serif" font-style="italic" font-size="82.0" letter-spacing="-1.58" fill="#000000" transform="translate(854.94,1392.21) rotate(-20.30)">x = 300 cm</text>
<rect x="451.8" y="97.2" width="916.2" height="270.3" fill="#ffffff" stroke="#6a6a6a" stroke-width="2.6"/>
<line x1="467.3" y1="146.5" x2="619.6" y2="146.5" stroke="#ff0000" stroke-width="13" stroke-dasharray="60 62.8"/>
<line x1="467.3" y1="233.4" x2="619.6" y2="233.4" stroke="#0000ff" stroke-width="13.1"/>
<circle cx="543.4" cy="318.4" r="25.4" fill="none" stroke="#000000" stroke-width="7"/>
<text x="631" y="177.3" font-family="'Liberation Serif', 'DejaVu Serif', serif" font-size="82.7" fill="#000000" textLength="217.5" lengthAdjust="spacingAndGlyphs">Eq. (4)</text>
<text x="631" y="264.1" font-family="'Liberation Serif', 'DejaVu Serif', serif" font-size="82.7" fill="#000000" textLength="255.5" lengthAdjust="spacingAndGlyphs">Eq. (11)</text>
<text x="633" y="348.6" font-family="'Liberation Serif', 'DejaVu Serif', serif" font-size="82.7" fill="#000000" textLength="710" lengthAdjust="spacingAndGlyphs">Exp. A (Refaat, 1990)</text>
</svg>
</body></html>
